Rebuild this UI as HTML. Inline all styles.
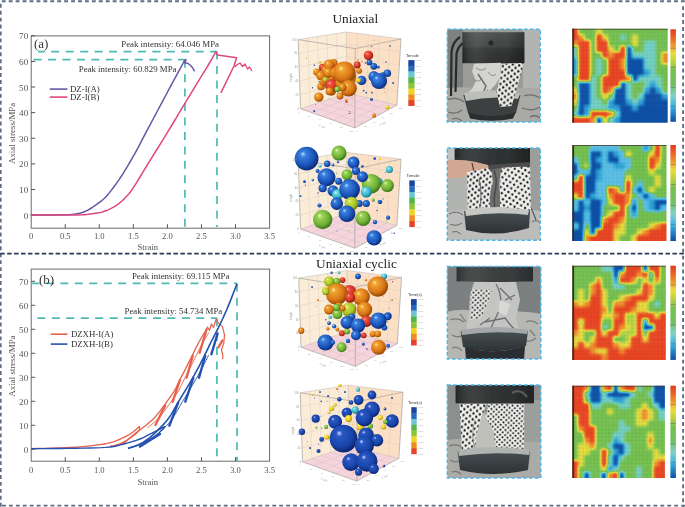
<!DOCTYPE html>
<html><head><meta charset="utf-8"><style>
html,body{margin:0;padding:0;background:#fff;width:685px;height:507px;overflow:hidden;font-family:"Liberation Serif",serif}
svg{display:block;filter:blur(0.35px)}
</style></head><body>
<svg width="685" height="507" viewBox="0 0 685 507">
<g font-family='"Liberation Serif", serif'>
<rect x="31.2" y="35.9" width="238.4" height="192.3" fill="none" stroke="#6b6b6b" stroke-width="1"/>
<line x1="31.2" y1="215.10" x2="35.2" y2="215.10" stroke="#555" stroke-width="1"/>
<text x="28.2" y="218.70" text-anchor="end" font-size="9.1" fill="#555">0</text>
<line x1="31.2" y1="189.48" x2="35.2" y2="189.48" stroke="#555" stroke-width="1"/>
<text x="28.2" y="193.08" text-anchor="end" font-size="9.1" fill="#555">10</text>
<line x1="31.2" y1="163.86" x2="35.2" y2="163.86" stroke="#555" stroke-width="1"/>
<text x="28.2" y="167.46" text-anchor="end" font-size="9.1" fill="#555">20</text>
<line x1="31.2" y1="138.24" x2="35.2" y2="138.24" stroke="#555" stroke-width="1"/>
<text x="28.2" y="141.84" text-anchor="end" font-size="9.1" fill="#555">30</text>
<line x1="31.2" y1="112.62" x2="35.2" y2="112.62" stroke="#555" stroke-width="1"/>
<text x="28.2" y="116.22" text-anchor="end" font-size="9.1" fill="#555">40</text>
<line x1="31.2" y1="87.00" x2="35.2" y2="87.00" stroke="#555" stroke-width="1"/>
<text x="28.2" y="90.60" text-anchor="end" font-size="9.1" fill="#555">50</text>
<line x1="31.2" y1="61.38" x2="35.2" y2="61.38" stroke="#555" stroke-width="1"/>
<text x="28.2" y="64.98" text-anchor="end" font-size="9.1" fill="#555">60</text>
<line x1="31.2" y1="35.76" x2="35.2" y2="35.76" stroke="#555" stroke-width="1"/>
<text x="28.2" y="39.36" text-anchor="end" font-size="9.1" fill="#555">70</text>
<text x="31.20" y="238.5" text-anchor="middle" font-size="8.6" fill="#555">0</text>
<line x1="65.25" y1="228.2" x2="65.25" y2="224.2" stroke="#555" stroke-width="1"/>
<text x="65.25" y="238.5" text-anchor="middle" font-size="8.6" fill="#555">0.5</text>
<line x1="99.31" y1="228.2" x2="99.31" y2="224.2" stroke="#555" stroke-width="1"/>
<text x="99.31" y="238.5" text-anchor="middle" font-size="8.6" fill="#555">1.0</text>
<line x1="133.36" y1="228.2" x2="133.36" y2="224.2" stroke="#555" stroke-width="1"/>
<text x="133.36" y="238.5" text-anchor="middle" font-size="8.6" fill="#555">1.5</text>
<line x1="167.42" y1="228.2" x2="167.42" y2="224.2" stroke="#555" stroke-width="1"/>
<text x="167.42" y="238.5" text-anchor="middle" font-size="8.6" fill="#555">2.0</text>
<line x1="201.47" y1="228.2" x2="201.47" y2="224.2" stroke="#555" stroke-width="1"/>
<text x="201.47" y="238.5" text-anchor="middle" font-size="8.6" fill="#555">2.5</text>
<line x1="235.53" y1="228.2" x2="235.53" y2="224.2" stroke="#555" stroke-width="1"/>
<text x="235.53" y="238.5" text-anchor="middle" font-size="8.6" fill="#555">3.0</text>
<text x="269.58" y="238.5" text-anchor="middle" font-size="8.6" fill="#555">3.5</text>
<text x="147.8" y="250.4" text-anchor="middle" font-size="8.6" fill="#555">Strain</text>
<text transform="translate(14.5,133.4) rotate(-90)" text-anchor="middle" font-size="8.95" fill="#555">Axial stress/MPa</text>
<g stroke="#4dbab4" stroke-width="1.7" fill="none">
<path d="M38,51.6 H217" stroke-dasharray="8 6.45" stroke-dashoffset="1.20"/>
<path d="M31.5,59.7 H185" stroke-dasharray="8 6.45" stroke-dashoffset="12.35"/>
<path d="M217,51.6 V227" stroke-dasharray="8 6.45"/>
<path d="M184.9,59.7 V227" stroke-dasharray="8 6.45"/>
</g>
<path d="M30.70,215.10 L33.88,215.09 L38.46,215.07 L43.43,215.05 L47.77,215.02 L51.14,215.00 L54.12,214.97 L56.99,214.92 L60.05,214.84 L63.44,214.76 L66.98,214.68 L70.49,214.52 L73.77,214.21 L76.77,213.75 L79.59,213.17 L82.28,212.45 L84.90,211.52 L87.41,210.36 L89.80,209.00 L92.15,207.50 L94.52,205.89 L96.98,204.22 L99.45,202.44 L101.89,200.54 L104.22,198.48 L106.38,196.26 L108.43,193.89 L110.44,191.39 L112.48,188.76 L114.55,186.00 L116.64,183.11 L118.72,180.10 L120.80,177.00 L122.89,173.79 L124.98,170.46 L127.04,167.08 L129.06,163.70 L131.07,160.25 L133.07,156.72 L134.98,153.29 L136.71,150.15 L138.10,147.57 L139.26,145.37 L140.45,143.07 L141.96,140.18 L143.93,136.44 L146.17,132.16 L148.53,127.67 L150.84,123.30 L152.99,119.26 L155.09,115.33 L157.28,111.23 L159.71,106.68 L162.59,101.28 L165.80,95.27 L168.92,89.41 L171.59,84.44 L173.61,80.71 L175.21,77.77 L176.65,75.17 L178.14,72.42 L179.88,69.19 L181.69,65.79 L183.30,62.76 L184.42,60.66 L186,59.6 L185,63 L187.8,63.3 Q192,65.5 194.6,71.4" stroke="#6a55a8" stroke-width="1.5" fill="none" stroke-linejoin="round"/>
<path d="M30.70,215.10 L36.36,215.09 L44.57,215.08 L53.18,215.06 L60.05,215.05 L64.47,215.04 L67.63,215.03 L70.24,215.01 L73.02,214.97 L76.02,214.94 L78.91,214.92 L81.82,214.83 L84.90,214.64 L88.38,214.28 L92.13,213.81 L95.71,213.29 L98.69,212.80 L100.82,212.37 L102.38,211.95 L103.70,211.51 L105.10,211.01 L106.64,210.44 L108.16,209.83 L109.65,209.16 L111.11,208.45 L112.54,207.70 L113.94,206.90 L115.33,206.05 L116.71,205.13 L118.10,204.12 L119.49,203.05 L120.85,201.93 L122.17,200.78 L123.41,199.63 L124.60,198.45 L125.76,197.22 L126.95,195.92 L128.08,194.69 L129.16,193.49 L130.34,192.04 L131.79,190.04 L133.53,187.42 L135.47,184.34 L137.62,180.84 L139.98,177.00 L142.62,172.70 L145.50,167.94 L148.51,162.98 L151.52,158.08 L154.56,153.20 L157.67,148.25 L160.74,143.35 L163.67,138.65 L166.39,134.21 L168.97,129.95 L171.49,125.76 L174.05,121.51 L176.54,117.35 L178.96,113.27 L181.52,108.96 L184.42,104.13 L187.93,98.31 L191.88,91.80 L195.78,85.39 L199.17,79.83 L201.85,75.48 L204.11,71.88 L206.15,68.60 L208.18,65.26 L210.38,61.48 L212.60,57.57 L214.53,54.12 L215.89,51.71 L217.5,55 L236.6,57.8 L234,66 L220.9,92.9" stroke="#e2467e" stroke-width="1.5" fill="none" stroke-linejoin="round"/>
<path d="M234.5,67 L237.5,64.5 L240,63 L242.5,66.5 L245,64 L247.5,69 L249.5,67 L252,71" stroke="#e2467e" stroke-width="1.3" fill="none" stroke-linejoin="round"/>
<text x="34" y="47.8" font-size="13" fill="#333">(a)</text>
<text x="219" y="46.5" text-anchor="end" font-size="8.85" fill="#333">Peak intensity: 64.046 MPa</text>
<text x="176.5" y="71.6" text-anchor="end" font-size="8.85" fill="#333">Peak intensity: 60.829 MPa</text>
<line x1="49.7" y1="89.1" x2="67.4" y2="89.1" stroke="#6a55a8" stroke-width="1.6"/>
<line x1="49.7" y1="97.1" x2="67.4" y2="97.1" stroke="#e2467e" stroke-width="1.6"/>
<text x="70" y="92.3" font-size="8.8" fill="#333">DZ-I(A)</text>
<text x="70" y="100.3" font-size="8.8" fill="#333">DZ-I(B)</text>
</g>
<g font-family='"Liberation Serif", serif'>
<rect x="31.2" y="269.1" width="238.4" height="192.1" fill="none" stroke="#6b6b6b" stroke-width="1"/>
<line x1="31.2" y1="449.30" x2="35.2" y2="449.30" stroke="#555" stroke-width="1"/>
<text x="28.2" y="452.90" text-anchor="end" font-size="9.1" fill="#555">0</text>
<line x1="31.2" y1="425.30" x2="35.2" y2="425.30" stroke="#555" stroke-width="1"/>
<text x="28.2" y="428.90" text-anchor="end" font-size="9.1" fill="#555">10</text>
<line x1="31.2" y1="401.30" x2="35.2" y2="401.30" stroke="#555" stroke-width="1"/>
<text x="28.2" y="404.90" text-anchor="end" font-size="9.1" fill="#555">20</text>
<line x1="31.2" y1="377.30" x2="35.2" y2="377.30" stroke="#555" stroke-width="1"/>
<text x="28.2" y="380.90" text-anchor="end" font-size="9.1" fill="#555">30</text>
<line x1="31.2" y1="353.30" x2="35.2" y2="353.30" stroke="#555" stroke-width="1"/>
<text x="28.2" y="356.90" text-anchor="end" font-size="9.1" fill="#555">40</text>
<line x1="31.2" y1="329.30" x2="35.2" y2="329.30" stroke="#555" stroke-width="1"/>
<text x="28.2" y="332.90" text-anchor="end" font-size="9.1" fill="#555">50</text>
<line x1="31.2" y1="305.30" x2="35.2" y2="305.30" stroke="#555" stroke-width="1"/>
<text x="28.2" y="308.90" text-anchor="end" font-size="9.1" fill="#555">60</text>
<line x1="31.2" y1="281.30" x2="35.2" y2="281.30" stroke="#555" stroke-width="1"/>
<text x="28.2" y="284.90" text-anchor="end" font-size="9.1" fill="#555">70</text>
<text x="31.20" y="472.5" text-anchor="middle" font-size="8.6" fill="#555">0</text>
<line x1="65.25" y1="461.2" x2="65.25" y2="457.2" stroke="#555" stroke-width="1"/>
<text x="65.25" y="472.5" text-anchor="middle" font-size="8.6" fill="#555">0.5</text>
<line x1="99.31" y1="461.2" x2="99.31" y2="457.2" stroke="#555" stroke-width="1"/>
<text x="99.31" y="472.5" text-anchor="middle" font-size="8.6" fill="#555">1.0</text>
<line x1="133.36" y1="461.2" x2="133.36" y2="457.2" stroke="#555" stroke-width="1"/>
<text x="133.36" y="472.5" text-anchor="middle" font-size="8.6" fill="#555">1.5</text>
<line x1="167.42" y1="461.2" x2="167.42" y2="457.2" stroke="#555" stroke-width="1"/>
<text x="167.42" y="472.5" text-anchor="middle" font-size="8.6" fill="#555">2.0</text>
<line x1="201.47" y1="461.2" x2="201.47" y2="457.2" stroke="#555" stroke-width="1"/>
<text x="201.47" y="472.5" text-anchor="middle" font-size="8.6" fill="#555">2.5</text>
<line x1="235.53" y1="461.2" x2="235.53" y2="457.2" stroke="#555" stroke-width="1"/>
<text x="235.53" y="472.5" text-anchor="middle" font-size="8.6" fill="#555">3.0</text>
<text x="269.58" y="472.5" text-anchor="middle" font-size="8.6" fill="#555">3.5</text>
<text x="147.8" y="484.7" text-anchor="middle" font-size="8.6" fill="#555">Strain</text>
<text transform="translate(14.5,366.0) rotate(-90)" text-anchor="middle" font-size="8.95" fill="#555">Axial stress/MPa</text>
<g stroke="#4dbab4" stroke-width="1.7" fill="none">
<path d="M31.5,283.4 H237" stroke-dasharray="8 6.45"/>
<path d="M37.4,318.2 H217" stroke-dasharray="8 6.45"/>
<path d="M237,283.4 V461" stroke-dasharray="8 6.45"/>
<path d="M216.9,318.2 V461" stroke-dasharray="8 6.45"/>
</g>
<path d="M31.40,448.60 L36.74,448.51 L44.45,448.38 L52.78,448.21 L60.00,448.00 L65.60,447.77 L70.54,447.50 L75.20,447.18 L80.00,446.80 L85.15,446.33 L90.41,445.80 L95.46,445.22 L100.00,444.60 L103.86,443.99 L107.22,443.38 L110.33,442.67 L113.40,441.80 L116.51,440.70 L119.54,439.43 L122.40,438.09 L125.00,436.80 L127.28,435.61 L129.31,434.44 L131.18,433.26 L133.00,432.00 L134.92,430.50 L136.85,428.85 L138.53,427.35 L139.70,426.30" stroke="#e8604c" stroke-width="1.3" fill="none" stroke-linejoin="round"/>
<path d="M139.70,426.30 L139.65,426.95 L139.60,427.87 L139.42,428.93 L139.00,430.00 L138.33,431.05 L137.46,432.14 L136.36,433.29 L135.00,434.50 L133.30,435.83 L131.31,437.25 L129.16,438.67 L127.00,440.00 L124.80,441.25 L122.50,442.47 L120.20,443.57 L118.00,444.50 L115.74,445.22 L113.44,445.78 L111.41,446.20 L110.00,446.50" stroke="#e8604c" stroke-width="1.3" fill="none" stroke-linejoin="round"/>
<path d="M110.00,446.50 L112.38,446.04 L115.82,445.41 L119.55,444.55 L122.80,443.40 L125.29,441.89 L127.46,440.07 L129.60,438.06 L132.00,436.00 L134.78,433.88 L137.78,431.64 L140.84,429.34 L143.80,427.00 L146.66,424.69 L149.49,422.36 L152.25,419.93 L154.90,417.30 L157.40,414.43 L159.79,411.36 L162.13,408.17 L164.50,404.90 L167.02,401.46 L169.61,397.86 L172.07,394.31 L174.20,391.00 L175.85,388.07 L177.16,385.38 L178.37,382.75 L179.70,380.00 L181.21,377.11 L182.77,374.18 L184.37,371.15 L186.00,368.00 L187.68,364.64 L189.41,361.11 L191.13,357.58 L192.80,354.20 L194.39,351.00 L195.94,347.89 L197.46,344.89 L199.00,342.00 L200.70,339.01 L202.49,335.99 L204.09,333.35 L205.20,331.50" stroke="#e8604c" stroke-width="1.3" fill="none" stroke-linejoin="round"/>
<path d="M205.2,331.5 L207.5,327.0 L209.5,330.5 L211.4,323.8 L213.5,327.5 L216.3,319.0 L218.3,323.1 L222.5,326.6 L224.5,334.9 L223.8,343.1 L221.5,350.0 L223.0,356.0 L222.5,359.0" stroke="#e8604c" stroke-width="1.2" fill="none" stroke-linejoin="round"/>
<path d="M155.5,424.9 L165.2,405.5" stroke="#e8604c" stroke-width="2.3" stroke-linecap="round"/>
<path d="M172.6,401.9 L180.0,380.0" stroke="#e8604c" stroke-width="2.3" stroke-linecap="round"/>
<path d="M186.6,377.7 L192.8,355.6" stroke="#e8604c" stroke-width="2.3" stroke-linecap="round"/>
<path d="M199.7,352.8 L206.6,329.3" stroke="#e8604c" stroke-width="2.3" stroke-linecap="round"/>
<path d="M218.3,347.3 L222.5,340.4" stroke="#e8604c" stroke-width="2.3" stroke-linecap="round"/>
<path d="M147.40,428.00 L149.43,426.32 L152.35,423.93 L155.57,421.14 L158.50,418.30 L161.00,415.43 L163.39,412.36 L165.73,409.17 L168.10,405.90 L170.62,402.46 L173.21,398.86 L175.67,395.31 L177.80,392.00 L179.45,389.07 L180.76,386.38 L181.97,383.75 L183.30,381.00 L184.81,378.11 L186.37,375.18 L187.97,372.15 L189.60,369.00 L191.28,365.64 L193.01,362.11 L194.73,358.58 L196.40,355.20 L197.99,352.00 L199.54,348.89 L201.06,345.89 L202.60,343.00 L204.30,340.01 L206.09,336.99 L207.69,334.35 L208.80,332.50" stroke="#e8604c" stroke-width="1.0" fill="none" opacity="0.9"/>
<path d="M31.40,448.60 L36.51,448.59 L43.82,448.58 L52.08,448.56 L60.00,448.50 L67.64,448.41 L75.54,448.31 L83.17,448.17 L90.00,448.00 L95.84,447.83 L101.00,447.66 L105.66,447.40 L110.00,447.00 L113.88,446.44 L117.25,445.75 L120.50,444.94 L124.00,444.00 L127.95,442.91 L132.12,441.69 L136.23,440.37 L140.00,439.00 L143.38,437.52 L146.50,435.94 L149.38,434.38 L152.00,433.00 L154.35,431.83 L156.42,430.79 L158.29,429.86 L160.00,429.00 L161.62,428.17 L163.10,427.40 L164.33,426.75 L165.20,426.30" stroke="#2451b0" stroke-width="1.4" fill="none"/>
<path d="M165.20,426.30 L164.71,426.91 L164.04,427.78 L163.14,428.83 L162.00,430.00 L160.54,431.36 L158.80,432.92 L156.91,434.52 L155.00,436.00 L153.12,437.33 L151.19,438.59 L149.16,439.81 L147.00,441.00 L144.62,442.20 L142.06,443.38 L139.48,444.50 L137.00,445.50 L134.47,446.41 L131.88,447.23 L129.59,447.92 L128.00,448.40" stroke="#2451b0" stroke-width="1.4" fill="none"/>
<path d="M128.00,448.40 L129.80,447.85 L132.38,447.07 L135.27,446.11 L138.00,445.00 L140.50,443.75 L143.01,442.34 L145.51,440.76 L148.00,439.00 L150.45,437.04 L152.86,434.89 L155.30,432.58 L157.80,430.10 L160.39,427.56 L163.05,424.91 L165.73,421.98 L168.40,418.60 L171.05,414.59 L173.69,410.09 L176.34,405.39 L179.00,400.80 L181.71,396.33 L184.46,391.84 L187.15,387.40 L189.70,383.10 L192.11,378.91 L194.41,374.80 L196.58,370.84 L198.60,367.10 L200.43,363.64 L202.09,360.41 L203.66,357.30 L205.20,354.20 L206.69,351.11 L208.10,348.09 L209.51,345.07 L211.00,342.00 L212.54,339.01 L214.10,336.09 L215.76,332.95 L217.60,329.30 L219.65,325.10 L221.86,320.49 L224.20,315.46 L226.60,310.00 L229.35,303.34 L232.36,295.74 L235.10,288.75 L237.00,283.90" stroke="#2451b0" stroke-width="1.6" fill="none"/>
<path d="M161.20,431.10 L163.10,429.18 L165.84,426.46 L168.90,423.19 L171.80,419.60 L174.45,415.59 L177.09,411.09 L179.74,406.39 L182.40,401.80 L185.11,397.33 L187.86,392.84 L190.55,388.40 L193.10,384.10 L195.51,379.91 L197.81,375.80 L199.98,371.84 L202.00,368.10 L203.97,364.35 L205.86,360.65 L207.47,357.45 L208.60,355.20" stroke="#2451b0" stroke-width="1.0" fill="none" opacity="0.9"/>
<path d="M169.3,425.7 L178.2,402.6" stroke="#2451b0" stroke-width="2.4" stroke-linecap="round"/>
<path d="M185.3,401.7 L193.3,377.8" stroke="#2451b0" stroke-width="2.4" stroke-linecap="round"/>
<path d="M199.0,377.7 L205.2,355.6" stroke="#2451b0" stroke-width="2.4" stroke-linecap="round"/>
<path d="M211.4,354.2 L217.6,333.5" stroke="#2451b0" stroke-width="2.4" stroke-linecap="round"/>
<path d="M140.0,446.5 L160.0,434.0" stroke="#2451b0" stroke-width="2.4" stroke-linecap="round"/>
<text x="39" y="284" font-size="13" fill="#333">(b)</text>
<text x="229.4" y="279" text-anchor="end" font-size="8.85" fill="#333">Peak intensity: 69.115 MPa</text>
<text x="222.3" y="313.8" text-anchor="end" font-size="8.85" fill="#333">Peak intensity: 54.734 MPa</text>
<line x1="50.8" y1="334.2" x2="67.4" y2="334.2" stroke="#e8604c" stroke-width="1.6"/>
<line x1="50.8" y1="344.1" x2="67.4" y2="344.1" stroke="#2451b0" stroke-width="1.6"/>
<text x="70.9" y="337.4" font-size="8.8" fill="#333">DZXH-I(A)</text>
<text x="70.9" y="347.3" font-size="8.8" fill="#333">DZXH-I(B)</text>
</g>
<text x="355.3" y="23" text-anchor="middle" font-family='"Liberation Serif", serif' font-size="13.3" fill="#222">Uniaxial</text>
<text x="356.5" y="267.5" text-anchor="middle" font-family='"Liberation Serif", serif' font-size="13.3" fill="#222">Uniaxial cyclic</text>
<defs><radialGradient id="sgo" cx="0.42" cy="0.4" r="0.62" fx="0.34" fy="0.3"><stop offset="0" stop-color="#fff0a0"/><stop offset="0.18" stop-color="#f0a432"/><stop offset="0.68" stop-color="#d87414"/><stop offset="1" stop-color="#8a4204"/></radialGradient>
<radialGradient id="sgr" cx="0.42" cy="0.4" r="0.62" fx="0.34" fy="0.3"><stop offset="0" stop-color="#ffc0b0"/><stop offset="0.18" stop-color="#f05a48"/><stop offset="0.68" stop-color="#d23020"/><stop offset="1" stop-color="#82120a"/></radialGradient>
<radialGradient id="sgb" cx="0.42" cy="0.4" r="0.62" fx="0.34" fy="0.3"><stop offset="0" stop-color="#c0dcff"/><stop offset="0.18" stop-color="#3a82e0"/><stop offset="0.68" stop-color="#1a52b8"/><stop offset="1" stop-color="#0a2870"/></radialGradient>
<radialGradient id="sgn" cx="0.42" cy="0.4" r="0.62" fx="0.34" fy="0.3"><stop offset="0" stop-color="#d0d8ff"/><stop offset="0.18" stop-color="#2a58c4"/><stop offset="0.68" stop-color="#1844aa"/><stop offset="1" stop-color="#0a2268"/></radialGradient>
<radialGradient id="sgg" cx="0.42" cy="0.4" r="0.62" fx="0.34" fy="0.3"><stop offset="0" stop-color="#f0ffc8"/><stop offset="0.18" stop-color="#a0d45c"/><stop offset="0.68" stop-color="#6cb034"/><stop offset="1" stop-color="#387016"/></radialGradient>
<radialGradient id="sgy" cx="0.42" cy="0.4" r="0.62" fx="0.34" fy="0.3"><stop offset="0" stop-color="#fffff0"/><stop offset="0.18" stop-color="#f8e850"/><stop offset="0.68" stop-color="#e6ca1a"/><stop offset="1" stop-color="#988206"/></radialGradient>
<radialGradient id="sgk" cx="0.42" cy="0.4" r="0.62" fx="0.34" fy="0.3"><stop offset="0" stop-color="#f4ffc8"/><stop offset="0.18" stop-color="#cce048"/><stop offset="0.68" stop-color="#a6c222"/><stop offset="1" stop-color="#62720e"/></radialGradient>
<radialGradient id="sgc" cx="0.42" cy="0.4" r="0.62" fx="0.34" fy="0.3"><stop offset="0" stop-color="#e8ffff"/><stop offset="0.18" stop-color="#78dce4"/><stop offset="0.68" stop-color="#32b2ca"/><stop offset="1" stop-color="#0f7084"/></radialGradient>
<pattern id="hdots" width="3.75" height="3.75" patternUnits="userSpaceOnUse"><circle cx="1.9" cy="1.9" r="0.55" fill="#223" opacity="0.35"/></pattern>
<linearGradient id="hcbar" x1="0" y1="0" x2="0" y2="1">
<stop offset="0" stop-color="#e03a22"/><stop offset="0.1" stop-color="#ec6a26"/><stop offset="0.2" stop-color="#f0a830"/>
<stop offset="0.26" stop-color="#eadc3c"/><stop offset="0.36" stop-color="#b8d040"/><stop offset="0.45" stop-color="#74c050"/>
<stop offset="0.6" stop-color="#70c060"/><stop offset="0.72" stop-color="#80d0c8"/><stop offset="0.84" stop-color="#38b0e0"/>
<stop offset="1" stop-color="#0d4ca8"/></linearGradient>

<filter id="pblur" x="-2%" y="-2%" width="104%" height="104%"><feGaussianBlur stdDeviation="0.5"/></filter>
<pattern id="pdots" width="6.4" height="6.0" patternUnits="userSpaceOnUse" patternTransform="rotate(8)">
<ellipse cx="1.6" cy="1.5" rx="1.1" ry="1.3" fill="#111"/><ellipse cx="4.8" cy="4.5" rx="1.1" ry="1.3" fill="#111"/></pattern>
<pattern id="pdots2" width="6.8" height="6.2" patternUnits="userSpaceOnUse" patternTransform="rotate(-10)">
<ellipse cx="1.6" cy="1.5" rx="1.05" ry="1.25" fill="#111"/><ellipse cx="5.0" cy="4.6" rx="1.05" ry="1.25" fill="#111"/></pattern>
<pattern id="pdots3" width="5.2" height="5.0" patternUnits="userSpaceOnUse" patternTransform="rotate(4)">
<circle cx="1.3" cy="1.2" r="1.0" fill="#111"/><circle cx="3.9" cy="3.7" r="1.0" fill="#111"/></pattern>
<linearGradient id="press" x1="0" y1="0" x2="0" y2="1"><stop offset="0" stop-color="#505353"/><stop offset="0.45" stop-color="#434646"/><stop offset="0.55" stop-color="#353737"/><stop offset="1" stop-color="#2c2e2e"/></linearGradient>
<linearGradient id="pressh" x1="0" y1="0" x2="1" y2="0"><stop offset="0" stop-color="#000" stop-opacity="0.25"/><stop offset="0.3" stop-color="#fff" stop-opacity="0.06"/><stop offset="0.7" stop-color="#000" stop-opacity="0"/><stop offset="1" stop-color="#000" stop-opacity="0.3"/></linearGradient>
<linearGradient id="baseg" x1="0" y1="0" x2="0" y2="1"><stop offset="0" stop-color="#4a5256"/><stop offset="1" stop-color="#2c3234"/></linearGradient>
</defs>
<g font-family='"Liberation Sans", sans-serif'>
<polygon points="298.20,39.60 346.40,32.00 347.00,93.00 300.50,108.70" fill="#fbecd8"/>
<polygon points="346.40,32.00 401.00,38.90 396.90,105.10 347.00,93.00" fill="#fce0c6"/>
<polygon points="300.50,108.70 347.00,93.00 396.90,105.10 354.80,127.90" fill="#f5d4db"/>
<path d="M307.84,38.08 L309.80,105.56 M298.66,53.42 L346.52,44.20 M357.32,33.38 L356.98,95.42 M346.52,44.20 L400.18,52.14 M317.48,36.56 L319.10,102.42 M299.12,67.24 L346.64,56.40 M368.24,34.76 L366.96,97.84 M346.64,56.40 L399.36,65.38 M327.12,35.04 L328.40,99.28 M299.58,81.06 L346.76,68.60 M379.16,36.14 L376.94,100.26 M346.76,68.60 L398.54,78.62 M336.76,33.52 L337.70,96.14 M300.04,94.88 L346.88,80.80 M390.08,37.52 L386.92,102.68 M346.88,80.80 L397.72,91.86" stroke="#dccfc3" stroke-width="0.5" fill="none"/>
<path d="M309.80,105.56 L363.22,123.34 M356.98,95.42 L311.36,112.54 M319.10,102.42 L371.64,118.78 M366.96,97.84 L322.22,116.38 M328.40,99.28 L380.06,114.22 M376.94,100.26 L333.08,120.22 M337.70,96.14 L388.48,109.66 M386.92,102.68 L343.94,124.06" stroke="#dcc0c8" stroke-width="0.5" fill="none"/>
<path d="M298.20,39.60 L346.40,32.00 L401.00,38.90 M346.40,32.00 L347.00,93.00 M300.50,108.70 L347.00,93.00 L396.90,105.10" stroke="#c8bdb2" stroke-width="0.6" fill="none"/>
<circle cx="315.7" cy="104.3" r="0.5" fill="#d04020"/>
<circle cx="349.2" cy="74.1" r="0.5" fill="#2050b0"/>
<circle cx="322.7" cy="77.0" r="0.5" fill="#e08020"/>
<circle cx="373.9" cy="40.2" r="0.5" fill="#e08020"/>
<circle cx="377.6" cy="84.9" r="0.8" fill="#d04020"/>
<circle cx="306.0" cy="41.9" r="0.4" fill="#2050b0"/>
<circle cx="385.0" cy="92.1" r="0.7" fill="#e08020"/>
<circle cx="352.2" cy="98.0" r="0.6" fill="#e08020"/>
<circle cx="335.3" cy="91.4" r="0.8" fill="#e08020"/>
<circle cx="389.2" cy="71.6" r="0.8" fill="#2050b0"/>
<circle cx="312.5" cy="87.8" r="0.7" fill="#2050b0"/>
<circle cx="314.4" cy="65.3" r="0.8" fill="#2050b0"/>
<circle cx="349.7" cy="113.4" r="0.7" fill="#2050b0"/>
<circle cx="365.4" cy="63.0" r="0.8" fill="#2050b0"/>
<circle cx="349.5" cy="111.4" r="0.6" fill="#e08020"/>
<circle cx="306.4" cy="58.4" r="0.5" fill="#e08020"/>
<circle cx="319.3" cy="81.7" r="0.7" fill="#2050b0"/>
<circle cx="371.7" cy="46.6" r="0.6" fill="#2050b0"/>
<path d="M298.20,39.60 L355.20,48.60 L401.00,38.90 M355.20,48.60 L354.80,127.90 M298.20,39.60 L300.50,108.70 M300.50,108.70 L354.80,127.90 L396.90,105.10" stroke="#a6a29e" stroke-width="0.7" fill="none"/>
<path d="M401.00,38.90 L396.90,105.10" stroke="#a6a29e" stroke-width="0.7" fill="none"/>
<circle cx="389.9" cy="45.8" r="0.9" fill="url(#sgb)"/>
<circle cx="371.3" cy="99.6" r="1.1" fill="url(#sgb)"/>
<circle cx="393.1" cy="83.0" r="1.0" fill="url(#sgb)"/>
<circle cx="363.6" cy="90.6" r="0.9" fill="url(#sgb)"/>
<circle cx="366.2" cy="92.6" r="0.9" fill="url(#sgb)"/>
<circle cx="371.9" cy="92.6" r="0.9" fill="url(#sgb)"/>
<circle cx="314.2" cy="110.9" r="1.0" fill="url(#sgb)"/>
<circle cx="346.4" cy="101.6" r="1.2" fill="url(#sgr)"/>
<circle cx="358.0" cy="60.0" r="0.8" fill="url(#sgo)"/>
<circle cx="362.0" cy="61.5" r="0.8" fill="url(#sgo)"/>
<circle cx="386.0" cy="62.0" r="0.7" fill="url(#sgb)"/>
<circle cx="384.0" cy="88.0" r="0.7" fill="url(#sgo)"/>
<circle cx="374.1" cy="115.7" r="2.1" fill="url(#sgo)"/>
<circle cx="387.2" cy="107.2" r="2.1" fill="url(#sgy)"/>
<circle cx="371.5" cy="99.4" r="1.4" fill="url(#sgb)"/>
<circle cx="369.4" cy="62.4" r="2.9" fill="url(#sgb)"/>
<circle cx="373.8" cy="66.3" r="3.4" fill="url(#sgb)"/>
<circle cx="378.3" cy="66.9" r="1.5" fill="url(#sgb)"/>
<circle cx="387.3" cy="73.3" r="3.8" fill="url(#sgb)"/>
<circle cx="382.8" cy="74.0" r="1.9" fill="url(#sgb)"/>
<circle cx="373.8" cy="76.5" r="5.4" fill="url(#sgb)"/>
<circle cx="379.0" cy="81.0" r="8.1" fill="url(#sgb)"/>
<circle cx="361.7" cy="80.4" r="4.7" fill="url(#sgb)"/>
<circle cx="358.5" cy="80.4" r="2.3" fill="url(#sgy)"/>
<circle cx="368.5" cy="55.4" r="4.7" fill="url(#sgr)"/>
<circle cx="357.2" cy="65.0" r="3.4" fill="url(#sgr)"/>
<circle cx="359.1" cy="70.8" r="2.9" fill="url(#sgo)"/>
<circle cx="320.0" cy="62.3" r="1.3" fill="url(#sgy)"/>
<circle cx="316.8" cy="72.0" r="3.6" fill="url(#sgo)"/>
<circle cx="321.0" cy="86.5" r="3.8" fill="url(#sgo)"/>
<circle cx="322.6" cy="67.4" r="3.6" fill="url(#sgr)"/>
<circle cx="326.0" cy="70.0" r="4.7" fill="url(#sgo)"/>
<circle cx="333.5" cy="63.0" r="4.0" fill="url(#sgo)"/>
<circle cx="329.0" cy="64.9" r="5.4" fill="url(#sgo)"/>
<circle cx="337.3" cy="67.4" r="3.4" fill="url(#sgr)"/>
<circle cx="320.6" cy="75.8" r="4.5" fill="url(#sgo)"/>
<circle cx="323.8" cy="82.2" r="3.8" fill="url(#sgo)"/>
<circle cx="326.5" cy="80.5" r="4.7" fill="url(#sgo)"/>
<circle cx="334.0" cy="80.0" r="5.2" fill="url(#sgo)"/>
<circle cx="328.3" cy="72.6" r="5.1" fill="url(#sgo)"/>
<circle cx="325.1" cy="79.6" r="2.3" fill="url(#sgk)"/>
<circle cx="353.3" cy="75.8" r="2.9" fill="url(#sgo)"/>
<circle cx="351.0" cy="79.0" r="4.7" fill="url(#sgo)"/>
<circle cx="337.3" cy="77.0" r="5.4" fill="url(#sgo)"/>
<circle cx="331.5" cy="91.0" r="4.7" fill="url(#sgo)"/>
<circle cx="331.5" cy="85.5" r="6.6" fill="url(#sgr)"/>
<circle cx="329.6" cy="91.2" r="4.0" fill="url(#sgo)"/>
<circle cx="340.0" cy="96.0" r="3.4" fill="url(#sgo)"/>
<circle cx="336.2" cy="73.2" r="6.3" fill="url(#sgo)"/>
<circle cx="340.5" cy="83.0" r="5.2" fill="url(#sgo)"/>
<circle cx="344.4" cy="72.6" r="11.1" fill="url(#sgo)"/>
<circle cx="348.5" cy="88.3" r="8.3" fill="url(#sgo)"/>
<circle cx="342.4" cy="87.3" r="4.0" fill="url(#sgo)"/>
<circle cx="337.3" cy="89.2" r="3.0" fill="url(#sgg)"/>
<circle cx="318.8" cy="97.1" r="4.7" fill="url(#sgo)"/>
<circle cx="346.3" cy="100.1" r="1.0" fill="url(#sgo)"/>
<text x="296.7" y="40.6" font-size="2.6" fill="#999" text-anchor="end">100</text>
<text x="297.2" y="54.4" font-size="2.6" fill="#999" text-anchor="end">80</text>
<text x="297.6" y="68.2" font-size="2.6" fill="#999" text-anchor="end">60</text>
<text x="298.1" y="82.1" font-size="2.6" fill="#999" text-anchor="end">40</text>
<text x="298.5" y="95.9" font-size="2.6" fill="#999" text-anchor="end">20</text>
<text x="299.0" y="109.7" font-size="2.6" fill="#999" text-anchor="end">0</text>
<text transform="translate(291.5,77.6) rotate(-90)" font-size="2.6" fill="#999" text-anchor="middle">Length</text>
<text x="299.5" y="112.7" font-size="2.5" fill="#aaa" text-anchor="end">0</text>
<text x="356.3" y="131.9" font-size="2.5" fill="#aaa">0</text>
<text x="310.4" y="116.5" font-size="2.5" fill="#aaa" text-anchor="end">20</text>
<text x="364.7" y="127.3" font-size="2.5" fill="#aaa">20</text>
<text x="321.2" y="120.4" font-size="2.5" fill="#aaa" text-anchor="end">40</text>
<text x="373.1" y="122.8" font-size="2.5" fill="#aaa">40</text>
<text x="332.1" y="124.2" font-size="2.5" fill="#aaa" text-anchor="end">60</text>
<text x="381.6" y="118.2" font-size="2.5" fill="#aaa">60</text>
<text x="342.9" y="128.1" font-size="2.5" fill="#aaa" text-anchor="end">80</text>
<text x="390.0" y="113.7" font-size="2.5" fill="#aaa">80</text>
<text x="353.8" y="131.9" font-size="2.5" fill="#aaa" text-anchor="end">100</text>
<text x="398.4" y="109.1" font-size="2.5" fill="#aaa">100</text>
<text transform="translate(321.9,127.3) rotate(20)" font-size="2.6" fill="#999" text-anchor="middle">X axis</text>
<text transform="translate(383.0,124.4) rotate(-25)" font-size="2.6" fill="#999" text-anchor="middle">Y axis</text>
<rect x="408.30" y="60.10" width="6.20" height="5.91" fill="#1b45a0"/>
<rect x="408.30" y="65.81" width="6.20" height="5.91" fill="#2a68bc"/>
<rect x="408.30" y="71.53" width="6.20" height="5.91" fill="#6cc4d4"/>
<rect x="408.30" y="77.24" width="6.20" height="5.91" fill="#56b44a"/>
<rect x="408.30" y="82.95" width="6.20" height="5.91" fill="#8cc43c"/>
<rect x="408.30" y="88.66" width="6.20" height="5.91" fill="#f2d322"/>
<rect x="408.30" y="94.38" width="6.20" height="5.91" fill="#f08a22"/>
<rect x="408.30" y="100.09" width="6.20" height="5.91" fill="#e5432a"/>
<text x="412.4" y="56.6" font-size="4.2" fill="#333" text-anchor="middle">Tensile</text>
<text x="415.7" y="61.1" font-size="2.2" fill="#aaa">0.000</text>
<text x="415.7" y="66.8" font-size="2.2" fill="#aaa">0.000</text>
<text x="415.7" y="72.5" font-size="2.2" fill="#aaa">0.000</text>
<text x="415.7" y="78.2" font-size="2.2" fill="#aaa">0.000</text>
<text x="415.7" y="84.0" font-size="2.2" fill="#aaa">0.000</text>
<text x="415.7" y="89.7" font-size="2.2" fill="#aaa">0.000</text>
<text x="415.7" y="95.4" font-size="2.2" fill="#aaa">0.000</text>
<text x="415.7" y="101.1" font-size="2.2" fill="#aaa">0.000</text>
<text x="415.7" y="106.8" font-size="2.2" fill="#aaa">0.000</text>
<polygon points="298.20,159.90 346.40,152.30 347.00,213.30 300.50,229.00" fill="#fbecd8"/>
<polygon points="346.40,152.30 401.00,159.20 396.90,225.40 347.00,213.30" fill="#fce0c6"/>
<polygon points="300.50,229.00 347.00,213.30 396.90,225.40 354.80,248.20" fill="#f5d4db"/>
<path d="M307.84,158.38 L309.80,225.86 M298.66,173.72 L346.52,164.50 M357.32,153.68 L356.98,215.72 M346.52,164.50 L400.18,172.44 M317.48,156.86 L319.10,222.72 M299.12,187.54 L346.64,176.70 M368.24,155.06 L366.96,218.14 M346.64,176.70 L399.36,185.68 M327.12,155.34 L328.40,219.58 M299.58,201.36 L346.76,188.90 M379.16,156.44 L376.94,220.56 M346.76,188.90 L398.54,198.92 M336.76,153.82 L337.70,216.44 M300.04,215.18 L346.88,201.10 M390.08,157.82 L386.92,222.98 M346.88,201.10 L397.72,212.16" stroke="#dccfc3" stroke-width="0.5" fill="none"/>
<path d="M309.80,225.86 L363.22,243.64 M356.98,215.72 L311.36,232.84 M319.10,222.72 L371.64,239.08 M366.96,218.14 L322.22,236.68 M328.40,219.58 L380.06,234.52 M376.94,220.56 L333.08,240.52 M337.70,216.44 L388.48,229.96 M386.92,222.98 L343.94,244.36" stroke="#dcc0c8" stroke-width="0.5" fill="none"/>
<path d="M298.20,159.90 L346.40,152.30 L401.00,159.20 M346.40,152.30 L347.00,213.30 M300.50,229.00 L347.00,213.30 L396.90,225.40" stroke="#c8bdb2" stroke-width="0.6" fill="none"/>
<circle cx="391.9" cy="232.2" r="0.4" fill="#2050b0"/>
<circle cx="336.7" cy="173.1" r="0.7" fill="#70c040"/>
<circle cx="326.5" cy="176.4" r="0.6" fill="#2050b0"/>
<circle cx="317.9" cy="193.0" r="0.7" fill="#2060c0"/>
<circle cx="383.0" cy="198.9" r="0.6" fill="#2060c0"/>
<circle cx="344.5" cy="180.7" r="0.7" fill="#2050b0"/>
<circle cx="337.0" cy="231.0" r="0.5" fill="#2060c0"/>
<circle cx="385.2" cy="172.8" r="0.5" fill="#2050b0"/>
<circle cx="305.4" cy="185.0" r="0.6" fill="#2050b0"/>
<circle cx="336.6" cy="199.3" r="0.4" fill="#70c040"/>
<circle cx="386.1" cy="220.8" r="0.6" fill="#70c040"/>
<circle cx="387.5" cy="187.9" r="0.5" fill="#70c040"/>
<circle cx="394.2" cy="233.3" r="0.8" fill="#2050b0"/>
<circle cx="340.3" cy="216.4" r="0.6" fill="#70c040"/>
<circle cx="348.7" cy="230.5" r="0.6" fill="#70c040"/>
<circle cx="377.1" cy="210.5" r="0.8" fill="#2060c0"/>
<circle cx="346.0" cy="203.4" r="0.7" fill="#70c040"/>
<circle cx="348.4" cy="177.1" r="0.7" fill="#2060c0"/>
<path d="M298.20,159.90 L355.20,168.90 L401.00,159.20 M355.20,168.90 L354.80,248.20 M298.20,159.90 L300.50,229.00 M300.50,229.00 L354.80,248.20 L396.90,225.40" stroke="#a6a29e" stroke-width="0.7" fill="none"/>
<path d="M401.00,159.20 L396.90,225.40" stroke="#a6a29e" stroke-width="0.7" fill="none"/>
<circle cx="304.5" cy="181.4" r="1.5" fill="url(#sgb)"/>
<circle cx="312.8" cy="180.0" r="1.2" fill="url(#sgb)"/>
<circle cx="317.6" cy="171.1" r="2.0" fill="url(#sgb)"/>
<circle cx="374.7" cy="158.6" r="1.3" fill="url(#sgn)"/>
<circle cx="380.2" cy="159.3" r="1.0" fill="url(#sgy)"/>
<circle cx="362.3" cy="166.2" r="1.3" fill="url(#sgb)"/>
<circle cx="380.2" cy="202.0" r="2.1" fill="url(#sgb)"/>
<circle cx="388.1" cy="217.7" r="2.1" fill="url(#sgb)"/>
<circle cx="375.0" cy="222.2" r="2.1" fill="url(#sgb)"/>
<circle cx="319.5" cy="205.5" r="2.1" fill="url(#sgb)"/>
<circle cx="327.2" cy="163.8" r="3.2" fill="url(#sgb)"/>
<circle cx="373.3" cy="200.0" r="1.7" fill="url(#sgg)"/>
<circle cx="379.7" cy="201.7" r="2.0" fill="url(#sgb)"/>
<circle cx="389.4" cy="169.6" r="3.5" fill="url(#sgc)"/>
<circle cx="320.0" cy="166.0" r="1.6" fill="url(#sgc)"/>
<circle cx="314.0" cy="160.0" r="1.3" fill="url(#sgb)"/>
<circle cx="333.0" cy="165.0" r="1.4" fill="url(#sgb)"/>
<circle cx="338.0" cy="162.0" r="1.2" fill="url(#sgb)"/>
<circle cx="300.5" cy="196.0" r="1.0" fill="url(#sgb)"/>
<circle cx="339.0" cy="153.1" r="7.5" fill="url(#sgg)"/>
<circle cx="353.5" cy="162.6" r="6.0" fill="url(#sgb)"/>
<circle cx="387.4" cy="185.6" r="6.5" fill="url(#sgg)"/>
<circle cx="378.5" cy="181.8" r="4.1" fill="url(#sgc)"/>
<circle cx="371.4" cy="183.7" r="9.7" fill="url(#sgg)"/>
<circle cx="356.0" cy="170.9" r="4.1" fill="url(#sgb)"/>
<circle cx="362.4" cy="176.7" r="5.5" fill="url(#sgb)"/>
<circle cx="347.0" cy="174.7" r="5.5" fill="url(#sgg)"/>
<circle cx="338.7" cy="181.2" r="3.5" fill="url(#sgb)"/>
<circle cx="326.5" cy="177.3" r="9.0" fill="url(#sgb)"/>
<circle cx="322.7" cy="188.2" r="4.1" fill="url(#sgb)"/>
<circle cx="333.0" cy="190.8" r="5.5" fill="url(#sgb)"/>
<circle cx="337.4" cy="194.6" r="5.5" fill="url(#sgc)"/>
<circle cx="366.3" cy="192.0" r="5.5" fill="url(#sgc)"/>
<circle cx="349.6" cy="189.5" r="10.4" fill="url(#sgb)"/>
<circle cx="359.2" cy="203.6" r="3.5" fill="url(#sgb)"/>
<circle cx="366.3" cy="203.6" r="3.5" fill="url(#sgb)"/>
<circle cx="336.8" cy="203.6" r="6.3" fill="url(#sgb)"/>
<circle cx="351.5" cy="203.6" r="6.9" fill="url(#sgk)"/>
<circle cx="347.0" cy="213.8" r="8.3" fill="url(#sgb)"/>
<circle cx="363.1" cy="218.3" r="7.6" fill="url(#sgg)"/>
<circle cx="322.7" cy="219.5" r="9.7" fill="url(#sgg)"/>
<circle cx="374.1" cy="237.9" r="7.6" fill="url(#sgb)"/>
<circle cx="306.6" cy="158.6" r="11.9" fill="url(#sgb)"/>
<text x="296.7" y="160.9" font-size="2.6" fill="#999" text-anchor="end">100</text>
<text x="297.2" y="174.7" font-size="2.6" fill="#999" text-anchor="end">80</text>
<text x="297.6" y="188.5" font-size="2.6" fill="#999" text-anchor="end">60</text>
<text x="298.1" y="202.4" font-size="2.6" fill="#999" text-anchor="end">40</text>
<text x="298.5" y="216.2" font-size="2.6" fill="#999" text-anchor="end">20</text>
<text x="299.0" y="230.0" font-size="2.6" fill="#999" text-anchor="end">0</text>
<text transform="translate(291.5,197.9) rotate(-90)" font-size="2.6" fill="#999" text-anchor="middle">Length</text>
<text x="299.5" y="233.0" font-size="2.5" fill="#aaa" text-anchor="end">0</text>
<text x="356.3" y="252.2" font-size="2.5" fill="#aaa">0</text>
<text x="310.4" y="236.8" font-size="2.5" fill="#aaa" text-anchor="end">20</text>
<text x="364.7" y="247.6" font-size="2.5" fill="#aaa">20</text>
<text x="321.2" y="240.7" font-size="2.5" fill="#aaa" text-anchor="end">40</text>
<text x="373.1" y="243.1" font-size="2.5" fill="#aaa">40</text>
<text x="332.1" y="244.5" font-size="2.5" fill="#aaa" text-anchor="end">60</text>
<text x="381.6" y="238.5" font-size="2.5" fill="#aaa">60</text>
<text x="342.9" y="248.4" font-size="2.5" fill="#aaa" text-anchor="end">80</text>
<text x="390.0" y="234.0" font-size="2.5" fill="#aaa">80</text>
<text x="353.8" y="252.2" font-size="2.5" fill="#aaa" text-anchor="end">100</text>
<text x="398.4" y="229.4" font-size="2.5" fill="#aaa">100</text>
<text transform="translate(321.9,247.6) rotate(20)" font-size="2.6" fill="#999" text-anchor="middle">X axis</text>
<text transform="translate(383.0,244.7) rotate(-25)" font-size="2.6" fill="#999" text-anchor="middle">Y axis</text>
<rect x="409.30" y="180.40" width="5.50" height="6.01" fill="#1b45a0"/>
<rect x="409.30" y="186.21" width="5.50" height="6.01" fill="#2a68bc"/>
<rect x="409.30" y="192.03" width="5.50" height="6.01" fill="#6cc4d4"/>
<rect x="409.30" y="197.84" width="5.50" height="6.01" fill="#56b44a"/>
<rect x="409.30" y="203.65" width="5.50" height="6.01" fill="#8cc43c"/>
<rect x="409.30" y="209.46" width="5.50" height="6.01" fill="#f2d322"/>
<rect x="409.30" y="215.28" width="5.50" height="6.01" fill="#f08a22"/>
<rect x="409.30" y="221.09" width="5.50" height="6.01" fill="#e5432a"/>
<text x="413.1" y="176.9" font-size="4.2" fill="#333" text-anchor="middle">Tensile</text>
<text x="416.0" y="181.4" font-size="2.2" fill="#aaa">0.000</text>
<text x="416.0" y="187.2" font-size="2.2" fill="#aaa">0.000</text>
<text x="416.0" y="193.0" font-size="2.2" fill="#aaa">0.000</text>
<text x="416.0" y="198.8" font-size="2.2" fill="#aaa">0.000</text>
<text x="416.0" y="204.7" font-size="2.2" fill="#aaa">0.000</text>
<text x="416.0" y="210.5" font-size="2.2" fill="#aaa">0.000</text>
<text x="416.0" y="216.3" font-size="2.2" fill="#aaa">0.000</text>
<text x="416.0" y="222.1" font-size="2.2" fill="#aaa">0.000</text>
<text x="416.0" y="227.9" font-size="2.2" fill="#aaa">0.000</text>
<polygon points="298.70,278.10 346.90,270.50 347.50,331.50 301.00,347.20" fill="#fbecd8"/>
<polygon points="346.90,270.50 401.50,277.40 397.40,343.60 347.50,331.50" fill="#fce0c6"/>
<polygon points="301.00,347.20 347.50,331.50 397.40,343.60 355.30,366.40" fill="#f5d4db"/>
<path d="M308.34,276.58 L310.30,344.06 M299.16,291.92 L347.02,282.70 M357.82,271.88 L357.48,333.92 M347.02,282.70 L400.68,290.64 M317.98,275.06 L319.60,340.92 M299.62,305.74 L347.14,294.90 M368.74,273.26 L367.46,336.34 M347.14,294.90 L399.86,303.88 M327.62,273.54 L328.90,337.78 M300.08,319.56 L347.26,307.10 M379.66,274.64 L377.44,338.76 M347.26,307.10 L399.04,317.12 M337.26,272.02 L338.20,334.64 M300.54,333.38 L347.38,319.30 M390.58,276.02 L387.42,341.18 M347.38,319.30 L398.22,330.36" stroke="#dccfc3" stroke-width="0.5" fill="none"/>
<path d="M310.30,344.06 L363.72,361.84 M357.48,333.92 L311.86,351.04 M319.60,340.92 L372.14,357.28 M367.46,336.34 L322.72,354.88 M328.90,337.78 L380.56,352.72 M377.44,338.76 L333.58,358.72 M338.20,334.64 L388.98,348.16 M387.42,341.18 L344.44,362.56" stroke="#dcc0c8" stroke-width="0.5" fill="none"/>
<path d="M298.70,278.10 L346.90,270.50 L401.50,277.40 M346.90,270.50 L347.50,331.50 M301.00,347.20 L347.50,331.50 L397.40,343.60" stroke="#c8bdb2" stroke-width="0.6" fill="none"/>
<circle cx="325.8" cy="319.8" r="0.8" fill="#2050b0"/>
<circle cx="347.7" cy="322.6" r="0.8" fill="#d04020"/>
<circle cx="347.2" cy="320.3" r="0.8" fill="#e08020"/>
<circle cx="347.3" cy="342.0" r="0.5" fill="#e0c020"/>
<circle cx="383.6" cy="296.1" r="0.7" fill="#e08020"/>
<circle cx="352.3" cy="334.8" r="0.4" fill="#d04020"/>
<circle cx="392.6" cy="281.7" r="0.7" fill="#d04020"/>
<circle cx="328.7" cy="323.6" r="0.7" fill="#e0c020"/>
<circle cx="389.2" cy="308.5" r="0.8" fill="#e0c020"/>
<circle cx="316.1" cy="306.2" r="0.4" fill="#d04020"/>
<circle cx="323.8" cy="351.8" r="0.7" fill="#e0c020"/>
<circle cx="383.1" cy="310.5" r="0.6" fill="#e0c020"/>
<circle cx="353.3" cy="309.4" r="0.8" fill="#e08020"/>
<circle cx="367.0" cy="349.0" r="0.8" fill="#2050b0"/>
<circle cx="366.0" cy="290.9" r="0.8" fill="#2050b0"/>
<circle cx="387.7" cy="321.7" r="0.6" fill="#e08020"/>
<circle cx="395.4" cy="298.8" r="0.4" fill="#d04020"/>
<circle cx="382.9" cy="353.6" r="0.5" fill="#d04020"/>
<path d="M298.70,278.10 L355.70,287.10 L401.50,277.40 M355.70,287.10 L355.30,366.40 M298.70,278.10 L301.00,347.20 M301.00,347.20 L355.30,366.40 L397.40,343.60" stroke="#a6a29e" stroke-width="0.7" fill="none"/>
<path d="M401.50,277.40 L397.40,343.60" stroke="#a6a29e" stroke-width="0.7" fill="none"/>
<circle cx="331.6" cy="272.8" r="1.2" fill="url(#sgb)"/>
<circle cx="339.2" cy="272.8" r="1.4" fill="url(#sgc)"/>
<circle cx="358.0" cy="276.3" r="2.9" fill="url(#sgb)"/>
<circle cx="384.2" cy="276.3" r="2.9" fill="url(#sgc)"/>
<circle cx="342.6" cy="280.1" r="2.9" fill="url(#sgr)"/>
<circle cx="336.8" cy="281.4" r="3.6" fill="url(#sgg)"/>
<circle cx="301.2" cy="330.7" r="3.1" fill="url(#sgo)"/>
<circle cx="327.8" cy="328.8" r="1.7" fill="url(#sgo)"/>
<circle cx="330.4" cy="317.3" r="1.7" fill="url(#sgc)"/>
<circle cx="334.2" cy="326.3" r="2.1" fill="url(#sgb)"/>
<circle cx="337.4" cy="329.5" r="2.0" fill="url(#sgo)"/>
<circle cx="341.9" cy="333.3" r="3.0" fill="url(#sgr)"/>
<circle cx="347.0" cy="331.4" r="2.9" fill="url(#sgg)"/>
<circle cx="348.0" cy="340.9" r="2.2" fill="url(#sgb)"/>
<circle cx="363.3" cy="344.1" r="1.6" fill="url(#sgb)"/>
<circle cx="388.1" cy="345.7" r="1.9" fill="url(#sgb)"/>
<circle cx="329.1" cy="323.1" r="1.9" fill="url(#sgb)"/>
<circle cx="372.7" cy="334.0" r="3.1" fill="url(#sgo)"/>
<circle cx="377.8" cy="334.0" r="3.2" fill="url(#sgo)"/>
<circle cx="387.8" cy="316.1" r="3.9" fill="url(#sgb)"/>
<circle cx="318.0" cy="300.0" r="1.0" fill="url(#sgo)"/>
<circle cx="312.0" cy="287.0" r="0.9" fill="url(#sgb)"/>
<circle cx="366.0" cy="280.0" r="1.2" fill="url(#sgo)"/>
<circle cx="371.0" cy="285.0" r="1.0" fill="url(#sgy)"/>
<circle cx="392.0" cy="300.0" r="0.9" fill="url(#sgo)"/>
<circle cx="363.7" cy="335.3" r="2.9" fill="url(#sgr)"/>
<circle cx="329.1" cy="281.4" r="5.0" fill="url(#sgk)"/>
<circle cx="325.9" cy="290.4" r="3.8" fill="url(#sgy)"/>
<circle cx="377.8" cy="286.5" r="10.3" fill="url(#sgo)"/>
<circle cx="349.6" cy="291.7" r="6.6" fill="url(#sgr)"/>
<circle cx="361.2" cy="296.8" r="8.6" fill="url(#sgo)"/>
<circle cx="336.8" cy="294.0" r="10.8" fill="url(#sgo)"/>
<circle cx="338.7" cy="305.8" r="3.4" fill="url(#sgo)"/>
<circle cx="329.1" cy="309.6" r="5.0" fill="url(#sgo)"/>
<circle cx="337.4" cy="314.1" r="5.0" fill="url(#sgg)"/>
<circle cx="349.0" cy="309.6" r="7.2" fill="url(#sgk)"/>
<circle cx="364.4" cy="309.6" r="7.8" fill="url(#sgo)"/>
<circle cx="350.0" cy="297.6" r="5.2" fill="url(#sgr)"/>
<circle cx="351.8" cy="316.8" r="3.4" fill="url(#sgb)"/>
<circle cx="342.6" cy="308.4" r="2.9" fill="url(#sgo)"/>
<circle cx="336.7" cy="307.4" r="3.4" fill="url(#sgg)"/>
<circle cx="325.8" cy="291.7" r="3.4" fill="url(#sgk)"/>
<circle cx="366.3" cy="321.2" r="5.7" fill="url(#sgr)"/>
<circle cx="387.3" cy="316.8" r="3.4" fill="url(#sgb)"/>
<circle cx="384.4" cy="327.6" r="2.9" fill="url(#sgb)"/>
<circle cx="378.4" cy="320.7" r="8.3" fill="url(#sgb)"/>
<circle cx="347.0" cy="322.4" r="6.5" fill="url(#sgb)"/>
<circle cx="358.0" cy="325.6" r="7.2" fill="url(#sgb)"/>
<circle cx="356.0" cy="335.3" r="5.0" fill="url(#sgb)"/>
<circle cx="325.5" cy="342.5" r="8.1" fill="url(#sgb)"/>
<circle cx="332.7" cy="342.5" r="2.4" fill="url(#sgb)"/>
<circle cx="341.6" cy="347.3" r="5.0" fill="url(#sgg)"/>
<circle cx="378.5" cy="347.3" r="7.5" fill="url(#sgo)"/>
<text x="297.2" y="279.1" font-size="2.6" fill="#999" text-anchor="end">100</text>
<text x="297.7" y="292.9" font-size="2.6" fill="#999" text-anchor="end">80</text>
<text x="298.1" y="306.7" font-size="2.6" fill="#999" text-anchor="end">60</text>
<text x="298.6" y="320.6" font-size="2.6" fill="#999" text-anchor="end">40</text>
<text x="299.0" y="334.4" font-size="2.6" fill="#999" text-anchor="end">20</text>
<text x="299.5" y="348.2" font-size="2.6" fill="#999" text-anchor="end">0</text>
<text transform="translate(292.0,316.1) rotate(-90)" font-size="2.6" fill="#999" text-anchor="middle">Length</text>
<text x="300.0" y="351.2" font-size="2.5" fill="#aaa" text-anchor="end">0</text>
<text x="356.8" y="370.4" font-size="2.5" fill="#aaa">0</text>
<text x="310.9" y="355.0" font-size="2.5" fill="#aaa" text-anchor="end">20</text>
<text x="365.2" y="365.8" font-size="2.5" fill="#aaa">20</text>
<text x="321.7" y="358.9" font-size="2.5" fill="#aaa" text-anchor="end">40</text>
<text x="373.6" y="361.3" font-size="2.5" fill="#aaa">40</text>
<text x="332.6" y="362.7" font-size="2.5" fill="#aaa" text-anchor="end">60</text>
<text x="382.1" y="356.7" font-size="2.5" fill="#aaa">60</text>
<text x="343.4" y="366.6" font-size="2.5" fill="#aaa" text-anchor="end">80</text>
<text x="390.5" y="352.2" font-size="2.5" fill="#aaa">80</text>
<text x="354.3" y="370.4" font-size="2.5" fill="#aaa" text-anchor="end">100</text>
<text x="398.9" y="347.6" font-size="2.5" fill="#aaa">100</text>
<text transform="translate(322.4,365.8) rotate(20)" font-size="2.6" fill="#999" text-anchor="middle">X axis</text>
<text transform="translate(383.5,362.9) rotate(-25)" font-size="2.6" fill="#999" text-anchor="middle">Y axis</text>
<rect x="411.00" y="299.10" width="5.70" height="5.97" fill="#1b45a0"/>
<rect x="411.00" y="304.88" width="5.70" height="5.97" fill="#2a68bc"/>
<rect x="411.00" y="310.65" width="5.70" height="5.97" fill="#6cc4d4"/>
<rect x="411.00" y="316.43" width="5.70" height="5.97" fill="#56b44a"/>
<rect x="411.00" y="322.20" width="5.70" height="5.97" fill="#8cc43c"/>
<rect x="411.00" y="327.98" width="5.70" height="5.97" fill="#f2d322"/>
<rect x="411.00" y="333.75" width="5.70" height="5.97" fill="#f08a22"/>
<rect x="411.00" y="339.53" width="5.70" height="5.97" fill="#e5432a"/>
<text x="414.9" y="295.6" font-size="4.2" fill="#333" text-anchor="middle">Time(s)</text>
<text x="417.9" y="300.1" font-size="2.2" fill="#aaa">0.000</text>
<text x="417.9" y="305.9" font-size="2.2" fill="#aaa">0.000</text>
<text x="417.9" y="311.7" font-size="2.2" fill="#aaa">0.000</text>
<text x="417.9" y="317.4" font-size="2.2" fill="#aaa">0.000</text>
<text x="417.9" y="323.2" font-size="2.2" fill="#aaa">0.000</text>
<text x="417.9" y="329.0" font-size="2.2" fill="#aaa">0.000</text>
<text x="417.9" y="334.8" font-size="2.2" fill="#aaa">0.000</text>
<text x="417.9" y="340.5" font-size="2.2" fill="#aaa">0.000</text>
<text x="417.9" y="346.3" font-size="2.2" fill="#aaa">0.000</text>
<polygon points="300.20,392.80 348.40,385.20 349.00,446.20 302.50,461.90" fill="#fbecd8"/>
<polygon points="348.40,385.20 403.00,392.10 398.90,458.30 349.00,446.20" fill="#fce0c6"/>
<polygon points="302.50,461.90 349.00,446.20 398.90,458.30 356.80,481.10" fill="#f5d4db"/>
<path d="M309.84,391.28 L311.80,458.76 M300.66,406.62 L348.52,397.40 M359.32,386.58 L358.98,448.62 M348.52,397.40 L402.18,405.34 M319.48,389.76 L321.10,455.62 M301.12,420.44 L348.64,409.60 M370.24,387.96 L368.96,451.04 M348.64,409.60 L401.36,418.58 M329.12,388.24 L330.40,452.48 M301.58,434.26 L348.76,421.80 M381.16,389.34 L378.94,453.46 M348.76,421.80 L400.54,431.82 M338.76,386.72 L339.70,449.34 M302.04,448.08 L348.88,434.00 M392.08,390.72 L388.92,455.88 M348.88,434.00 L399.72,445.06" stroke="#dccfc3" stroke-width="0.5" fill="none"/>
<path d="M311.80,458.76 L365.22,476.54 M358.98,448.62 L313.36,465.74 M321.10,455.62 L373.64,471.98 M368.96,451.04 L324.22,469.58 M330.40,452.48 L382.06,467.42 M378.94,453.46 L335.08,473.42 M339.70,449.34 L390.48,462.86 M388.92,455.88 L345.94,477.26" stroke="#dcc0c8" stroke-width="0.5" fill="none"/>
<path d="M300.20,392.80 L348.40,385.20 L403.00,392.10 M348.40,385.20 L349.00,446.20 M302.50,461.90 L349.00,446.20 L398.90,458.30" stroke="#c8bdb2" stroke-width="0.6" fill="none"/>
<circle cx="327.1" cy="401.0" r="0.6" fill="#70c040"/>
<circle cx="313.6" cy="394.7" r="0.7" fill="#e0c020"/>
<circle cx="376.2" cy="410.0" r="0.5" fill="#e0c020"/>
<circle cx="321.2" cy="401.3" r="0.8" fill="#1a3aa0"/>
<circle cx="307.6" cy="441.8" r="0.7" fill="#e0c020"/>
<circle cx="323.2" cy="416.7" r="0.4" fill="#e0c020"/>
<circle cx="361.4" cy="444.2" r="0.4" fill="#1a3aa0"/>
<circle cx="349.1" cy="400.0" r="0.4" fill="#e0c020"/>
<circle cx="332.3" cy="446.7" r="0.7" fill="#e0c020"/>
<circle cx="352.4" cy="424.6" r="0.5" fill="#e0c020"/>
<circle cx="320.2" cy="416.4" r="0.4" fill="#1a3aa0"/>
<circle cx="348.1" cy="468.9" r="0.7" fill="#70c040"/>
<circle cx="318.7" cy="444.3" r="0.5" fill="#1a3aa0"/>
<circle cx="324.0" cy="441.2" r="0.4" fill="#e0c020"/>
<circle cx="345.7" cy="437.9" r="0.8" fill="#1a3aa0"/>
<circle cx="314.6" cy="397.9" r="0.5" fill="#1a3aa0"/>
<circle cx="359.2" cy="458.6" r="0.5" fill="#1a3aa0"/>
<circle cx="321.7" cy="428.0" r="0.5" fill="#1a3aa0"/>
<path d="M300.20,392.80 L357.20,401.80 L403.00,392.10 M357.20,401.80 L356.80,481.10 M300.20,392.80 L302.50,461.90 M302.50,461.90 L356.80,481.10 L398.90,458.30" stroke="#a6a29e" stroke-width="0.7" fill="none"/>
<path d="M403.00,392.10 L398.90,458.30" stroke="#a6a29e" stroke-width="0.7" fill="none"/>
<circle cx="339.9" cy="385.5" r="1.7" fill="url(#sgy)"/>
<circle cx="337.1" cy="389.0" r="1.1" fill="url(#sgo)"/>
<circle cx="358.1" cy="389.7" r="2.1" fill="url(#sgc)"/>
<circle cx="339.3" cy="399.2" r="2.2" fill="url(#sgn)"/>
<circle cx="351.0" cy="402.5" r="2.3" fill="url(#sgn)"/>
<circle cx="385.0" cy="409.0" r="1.4" fill="url(#sgn)"/>
<circle cx="316.4" cy="427.6" r="1.1" fill="url(#sgg)"/>
<circle cx="326.1" cy="426.9" r="2.1" fill="url(#sgg)"/>
<circle cx="326.7" cy="437.0" r="2.5" fill="url(#sgy)"/>
<circle cx="318.5" cy="451.0" r="2.0" fill="url(#sgn)"/>
<circle cx="384.0" cy="466.1" r="1.3" fill="url(#sgn)"/>
<circle cx="321.7" cy="439.4" r="2.4" fill="url(#sgn)"/>
<circle cx="301.9" cy="431.8" r="3.2" fill="url(#sgn)"/>
<circle cx="315.7" cy="418.7" r="4.1" fill="url(#sgn)"/>
<circle cx="331.7" cy="408.4" r="2.5" fill="url(#sgy)"/>
<circle cx="335.0" cy="404.9" r="1.8" fill="url(#sgy)"/>
<circle cx="329.0" cy="412.0" r="1.6" fill="url(#sgy)"/>
<circle cx="312.0" cy="395.0" r="1.0" fill="url(#sgy)"/>
<circle cx="320.0" cy="392.0" r="0.9" fill="url(#sgb)"/>
<circle cx="328.0" cy="396.0" r="1.0" fill="url(#sgn)"/>
<circle cx="345.0" cy="392.0" r="1.0" fill="url(#sgn)"/>
<circle cx="392.0" cy="398.0" r="0.9" fill="url(#sgn)"/>
<circle cx="310.0" cy="448.0" r="1.0" fill="url(#sgn)"/>
<circle cx="372.0" cy="395.0" r="4.4" fill="url(#sgn)"/>
<circle cx="358.6" cy="400.0" r="4.9" fill="url(#sgn)"/>
<circle cx="346.8" cy="412.6" r="5.2" fill="url(#sgn)"/>
<circle cx="355.2" cy="410.1" r="3.6" fill="url(#sgc)"/>
<circle cx="372.0" cy="409.3" r="7.9" fill="url(#sgn)"/>
<circle cx="392.1" cy="421.0" r="6.7" fill="url(#sgn)"/>
<circle cx="348.5" cy="418.5" r="3.4" fill="url(#sgy)"/>
<circle cx="360.3" cy="426.9" r="3.4" fill="url(#sgy)"/>
<circle cx="370.3" cy="426.0" r="2.7" fill="url(#sgg)"/>
<circle cx="380.4" cy="417.6" r="2.5" fill="url(#sgy)"/>
<circle cx="383.7" cy="426.9" r="2.5" fill="url(#sgy)"/>
<circle cx="385.4" cy="421.8" r="2.4" fill="url(#sgg)"/>
<circle cx="364.4" cy="417.6" r="8.8" fill="url(#sgn)"/>
<circle cx="335.1" cy="421.8" r="7.0" fill="url(#sgn)"/>
<circle cx="366.1" cy="435.3" r="7.9" fill="url(#sgn)"/>
<circle cx="377.0" cy="440.3" r="6.2" fill="url(#sgn)"/>
<circle cx="343.5" cy="438.6" r="13.9" fill="url(#sgn)"/>
<circle cx="364.4" cy="445.3" r="9.7" fill="url(#sgn)"/>
<circle cx="351.0" cy="462.1" r="8.8" fill="url(#sgn)"/>
<circle cx="367.0" cy="461.2" r="10.5" fill="url(#sgn)"/>
<circle cx="373.7" cy="468.8" r="5.2" fill="url(#sgn)"/>
<circle cx="358.6" cy="472.1" r="3.6" fill="url(#sgn)"/>
<text x="298.7" y="393.8" font-size="2.6" fill="#999" text-anchor="end">100</text>
<text x="299.2" y="407.6" font-size="2.6" fill="#999" text-anchor="end">80</text>
<text x="299.6" y="421.4" font-size="2.6" fill="#999" text-anchor="end">60</text>
<text x="300.1" y="435.3" font-size="2.6" fill="#999" text-anchor="end">40</text>
<text x="300.5" y="449.1" font-size="2.6" fill="#999" text-anchor="end">20</text>
<text x="301.0" y="462.9" font-size="2.6" fill="#999" text-anchor="end">0</text>
<text transform="translate(293.5,430.8) rotate(-90)" font-size="2.6" fill="#999" text-anchor="middle">Length</text>
<text x="301.5" y="465.9" font-size="2.5" fill="#aaa" text-anchor="end">0</text>
<text x="358.3" y="485.1" font-size="2.5" fill="#aaa">0</text>
<text x="312.4" y="469.7" font-size="2.5" fill="#aaa" text-anchor="end">20</text>
<text x="366.7" y="480.5" font-size="2.5" fill="#aaa">20</text>
<text x="323.2" y="473.6" font-size="2.5" fill="#aaa" text-anchor="end">40</text>
<text x="375.1" y="476.0" font-size="2.5" fill="#aaa">40</text>
<text x="334.1" y="477.4" font-size="2.5" fill="#aaa" text-anchor="end">60</text>
<text x="383.6" y="471.4" font-size="2.5" fill="#aaa">60</text>
<text x="344.9" y="481.3" font-size="2.5" fill="#aaa" text-anchor="end">80</text>
<text x="392.0" y="466.9" font-size="2.5" fill="#aaa">80</text>
<text x="355.8" y="485.1" font-size="2.5" fill="#aaa" text-anchor="end">100</text>
<text x="400.4" y="462.3" font-size="2.5" fill="#aaa">100</text>
<text transform="translate(323.9,480.5) rotate(20)" font-size="2.6" fill="#999" text-anchor="middle">X axis</text>
<text transform="translate(385.0,477.6) rotate(-25)" font-size="2.6" fill="#999" text-anchor="middle">Y axis</text>
<rect x="411.30" y="407.20" width="5.40" height="6.05" fill="#1b45a0"/>
<rect x="411.30" y="413.05" width="5.40" height="6.05" fill="#2a68bc"/>
<rect x="411.30" y="418.90" width="5.40" height="6.05" fill="#6cc4d4"/>
<rect x="411.30" y="424.75" width="5.40" height="6.05" fill="#56b44a"/>
<rect x="411.30" y="430.60" width="5.40" height="6.05" fill="#8cc43c"/>
<rect x="411.30" y="436.45" width="5.40" height="6.05" fill="#f2d322"/>
<rect x="411.30" y="442.30" width="5.40" height="6.05" fill="#f08a22"/>
<rect x="411.30" y="448.15" width="5.40" height="6.05" fill="#e5432a"/>
<text x="415.0" y="403.7" font-size="4.2" fill="#333" text-anchor="middle">Time(s)</text>
<text x="417.9" y="408.2" font-size="2.2" fill="#aaa">0.000</text>
<text x="417.9" y="414.1" font-size="2.2" fill="#aaa">0.000</text>
<text x="417.9" y="419.9" font-size="2.2" fill="#aaa">0.000</text>
<text x="417.9" y="425.8" font-size="2.2" fill="#aaa">0.000</text>
<text x="417.9" y="431.6" font-size="2.2" fill="#aaa">0.000</text>
<text x="417.9" y="437.4" font-size="2.2" fill="#aaa">0.000</text>
<text x="417.9" y="443.3" font-size="2.2" fill="#aaa">0.000</text>
<text x="417.9" y="449.1" font-size="2.2" fill="#aaa">0.000</text>
<text x="417.9" y="455.0" font-size="2.2" fill="#aaa">0.000</text>
</g>
<clipPath id="pc1"><rect x="447.3" y="29.2" width="93.0" height="92.8"/></clipPath>
<g clip-path="url(#pc1)"><g filter="url(#pblur)">
<rect x="445.3" y="27.2" width="97.0" height="96.8" fill="#9a9c99"/>
<rect x="446" y="28" width="17" height="64" fill="#7e817f"/>
<rect x="523" y="28" width="19" height="62" fill="#b2b4b1"/>
<path d="M446,88 Q470,86 495,90 Q520,86 542,89 L542,124 L446,124 Z" fill="#a9a9a5"/>
<path d="M446,100 q10,-4 18,2 M448,112 q8,3 14,-2 M524,96 q8,-3 16,2 M522,108 q10,4 18,-1 M452,119 q6,-2 10,2 M530,117 q5,-3 10,1" stroke="#6e6e6c" stroke-width="1.3" fill="none"/>
<path d="M451,96 L451.5,52 Q452.5,42 460,37 M455.5,92 L456.5,54 Q457.5,47 463,43" stroke="#2a2c2c" stroke-width="2.2" fill="none"/>
<rect x="462.4" y="32.2" width="62" height="31" fill="url(#press)"/>
<rect x="462.4" y="32.2" width="62" height="31" fill="url(#pressh)"/>
<circle cx="491" cy="43" r="2.6" fill="#2a2c2c"/>
<path d="M474,63.7 L501,62.8 L500,77.3 L495.3,85 L489.5,90.8 L479.8,100.5 L470.1,104.3 L464.3,96.6 L472.1,88.9 L475.9,81.1 L472.1,71.5 Z" fill="#d3d3cf"/>
<path d="M476,68 q6,4 10,0 M474,80 q5,3 8,-2 M480,92 q6,2 8,-3 M488,72 q4,6 8,2 M468,98 q4,-3 8,0" stroke="#8e8e8a" stroke-width="1" fill="none"/>
<path d="M478,74 L486,86 L482,95" stroke="#6a6a68" stroke-width="1.4" fill="none"/>
<path d="M463.4,95 Q492,91 520.4,95 L516,113 Q492,120 468,113 Z" fill="#3e4141"/>
<path d="M464,93 Q492,88 520,94 L518,99 Q492,95 466,101 Z" fill="#bdbdb9"/>
<path d="M468,112 Q492,120 516,112 L513,118.5 Q492,123 470,118.5 Z" fill="#2b2d2d"/>
<path d="M501,64 L523.5,63 L521.4,72 L516,92 L511.5,106 L500,107 L496.5,92 L499.5,78 Z" fill="#e8e8e4"/>
<path d="M501,64 L523.5,63 L521.4,72 L516,92 L511.5,106 L500,107 L496.5,92 L499.5,78 Z" fill="url(#pdots)"/>
</g></g>
<rect x="447.3" y="29.2" width="93.0" height="92.8" fill="none" stroke="#4db6e8" stroke-width="1.5" stroke-dasharray="3.6 2.3"/>
<clipPath id="pc2"><rect x="447.3" y="148.0" width="93.0" height="92.3"/></clipPath>
<g clip-path="url(#pc2)"><g filter="url(#pblur)">
<rect x="445.3" y="146.0" width="97.0" height="96.3" fill="#c2c4c2"/>
<rect x="446" y="176" width="21" height="38" fill="#b2b4b2"/>
<rect x="529" y="147" width="13" height="72" fill="#9c9e9c"/>
<path d="M446,212 Q470,208 495,212 Q520,208 542,211 L542,242 L446,242 Z" fill="#bcbcba"/>
<path d="M449,214 q8,-4 14,1 M450,224 q6,3 12,-1 M452,232 q5,-2 9,2 M532,222 q4,-3 8,1" stroke="#6c6c6c" stroke-width="1" fill="none"/>
<path d="M526,200 q6,8 10,20" stroke="#555" stroke-width="1.2" fill="none"/>
<path d="M454.7,147 L530,147 L530,164 Q492,167 454.7,164 Z" fill="#2e3232"/>
<rect x="454.7" y="147" width="75.3" height="18" fill="url(#pressh)"/>
<path d="M446,160 Q462,159 476,162 L488,165 L489,171 L477,174 Q460,179 446,178 Z" fill="#d2a892"/>
<path d="M472,163 L474,172" stroke="#4a3024" stroke-width="1.1"/>
<path d="M467,172 L492,167 L492,214 L468,214 Z" fill="#ededeb"/>
<path d="M467,172 L492,167 L492,214 L468,214 Z" fill="url(#pdots)"/>
<path d="M501,168 L530,165 L531,212 L499,214 Z" fill="#ededeb"/>
<path d="M501,168 L530,165 L531,212 L499,214 Z" fill="url(#pdots2)"/>
<path d="M491,167 L502,168 Q498,180 500,195 L500,214 L491,214 Q488,195 493,182 Z" fill="#6e6e6c"/>
<path d="M494,170 Q498,180 495,192 Q493,202 496,212" stroke="#4c4c4c" stroke-width="1.6" fill="none"/>
<path d="M479,178 Q483,196 479,212" stroke="#707070" stroke-width="1.2" fill="none"/>
<path d="M488,165 L530,162 L530,167 Q505,166 489,170 Z" fill="#4c4c4c"/>
<path d="M464,211 Q497,207 530,211 L529,228 Q497,238 466,230 Z" fill="url(#baseg)"/>
<path d="M465,210 Q497,204 529,210 L528,215 Q497,211 466,216 Z" fill="#c6c6c2"/>
</g></g>
<rect x="447.3" y="148.0" width="93.0" height="92.3" fill="none" stroke="#4db6e8" stroke-width="1.5" stroke-dasharray="3.6 2.3"/>
<clipPath id="pc3"><rect x="447.3" y="266.4" width="93.5" height="92.7"/></clipPath>
<g clip-path="url(#pc3)"><g filter="url(#pblur)">
<rect x="445.3" y="264.4" width="97.5" height="96.7" fill="#7c8080"/>
<path d="M446,312 Q470,306 490,316 Q515,308 542,314 L542,361 L446,361 Z" fill="#b6b6b2"/>
<path d="M450,320 q8,-3 14,2 M452,335 q7,4 12,-1 M526,322 q6,-3 12,2 M524,340 q6,3 12,-2 M452,348 q6,-2 10,3 M460,314 l6,8 M530,330 l5,6" stroke="#7a7a7a" stroke-width="1.2" fill="none"/>
<path d="M456.6,266 L533,266 L533,281 Q495,283 456.6,281 Z" fill="#3a3e3e"/>
<rect x="456.6" y="266" width="76.4" height="16" fill="url(#pressh)"/>
<path d="M474,282 L516,282 L520,300 L516,318 L520,332 L466,333 L469,312 L470,295 Z" fill="#c4c5c3"/>
<path d="M471,290 L492,289 L489,300 L481,318 L470,320 Z" fill="#e4e4e2"/>
<path d="M471,290 L492,289 L489,300 L481,318 L470,320 Z" fill="url(#pdots3)" opacity="0.9"/>
<path d="M496,284 Q505,300 497,315 L490,330 M505,300 L515,295 M485,322 L505,318 Q510,325 515,330 M500,288 L512,300 M480,325 L490,318" stroke="#6e6e6e" stroke-width="1.3" fill="none"/>
<path d="M500,300 L510,304 L506,316 L498,312 Z" fill="#d8d8d6"/>
<path d="M460.5,331 Q494,326 528,331 L526,346 Q494,356 463,347 Z" fill="url(#baseg)"/>
<path d="M461,330 Q494,324 528,330 L527,334 Q494,330 462,335 Z" fill="#a4a8aa"/>
<path d="M465,347 Q494,356 525,346 L524,360 L466,360 Z" fill="#2a2e30"/>
</g></g>
<rect x="447.3" y="266.4" width="93.5" height="92.7" fill="none" stroke="#4db6e8" stroke-width="1.5" stroke-dasharray="3.6 2.3"/>
<clipPath id="pc4"><rect x="447.3" y="384.9" width="93.5" height="93.1"/></clipPath>
<g clip-path="url(#pc4)"><g filter="url(#pblur)">
<rect x="445.3" y="382.9" width="97.5" height="97.1" fill="#8c8f8d"/>
<path d="M446,440 Q470,436 495,442 Q520,436 542,440 L542,480 L446,480 Z" fill="#aaaaa6"/>
<rect x="524" y="400" width="18" height="42" fill="#9c9e9c"/>
<path d="M449,446 q8,-3 14,2 M450,460 q7,4 12,-1 M452,472 q5,-2 9,2" stroke="#777" stroke-width="1.1" fill="none"/>
<path d="M455.6,384 L533.9,384 L533.9,403.3 L455.6,403.3 Z" fill="#2f3232"/>
<rect x="455.6" y="384" width="78.3" height="19.3" fill="url(#pressh)"/>
<path d="M512,393 q8,-5 15,4" stroke="#5a5a5a" stroke-width="2.2" fill="none"/>
<path d="M474,425 L485,412 L494,430 L496,453 L472,453 Z" fill="#c0c0ba"/>
<path d="M459.5,404 L486.6,404 L481,418 L476,436 L475,453 L462,453 Z" fill="#efefed"/>
<path d="M459.5,404 L486.6,404 L481,418 L476,436 L475,453 L462,453 Z" fill="url(#pdots)"/>
<path d="M488,404 L524.3,404 L524,452 L495,453 L494,432 L486,418 Z" fill="#efefed"/>
<path d="M488,404 L524.3,404 L524,452 L495,453 L494,432 L486,418 Z" fill="url(#pdots3)"/>
<path d="M475,420 Q470,435 476,452" stroke="#888" stroke-width="1" fill="none"/>
<path d="M457.6,451 Q494,446 530,451 L528,470 Q494,478 460,470 Z" fill="url(#baseg)"/>
<path d="M458,450 Q494,444 530,450 L529,455 Q494,451 459,456 Z" fill="#b0b4b0"/>
</g></g>
<rect x="447.3" y="384.9" width="93.5" height="93.1" fill="none" stroke="#4db6e8" stroke-width="1.5" stroke-dasharray="3.6 2.3"/>
<filter id="hfa" x="-5%" y="-5%" width="110%" height="110%" color-interpolation-filters="sRGB"><feGaussianBlur stdDeviation="1.50"/><feComponentTransfer><feFuncR type="table" tableValues="0.051 0.065 0.080 0.094 0.108 0.123 0.137 0.152 0.166 0.180 0.210 0.240 0.269 0.299 0.329 0.358 0.388 0.417 0.447 0.448 0.449 0.450 0.451 0.451 0.452 0.453 0.454 0.455 0.490 0.525 0.559 0.594 0.629 0.664 0.699 0.732 0.765 0.797 0.830 0.863 0.895 0.905 0.910 0.914 0.919 0.923 0.927 0.932 0.936 0.940 0.939 0.936 0.933 0.930 0.927 0.924 0.921 0.919 0.916 0.913 0.910"/><feFuncG type="table" tableValues="0.314 0.350 0.387 0.424 0.460 0.497 0.533 0.570 0.607 0.643 0.662 0.681 0.701 0.720 0.739 0.758 0.777 0.797 0.816 0.809 0.802 0.795 0.788 0.781 0.774 0.767 0.760 0.753 0.764 0.775 0.786 0.797 0.807 0.818 0.829 0.836 0.841 0.846 0.851 0.856 0.862 0.835 0.800 0.765 0.730 0.695 0.661 0.626 0.591 0.556 0.528 0.503 0.477 0.451 0.425 0.399 0.374 0.348 0.322 0.296 0.271"/><feFuncB type="table" tableValues="0.651 0.673 0.695 0.716 0.738 0.760 0.782 0.803 0.825 0.847 0.838 0.830 0.821 0.812 0.803 0.795 0.786 0.777 0.769 0.718 0.668 0.617 0.566 0.516 0.465 0.415 0.364 0.314 0.307 0.301 0.294 0.288 0.281 0.275 0.268 0.262 0.257 0.252 0.247 0.242 0.236 0.230 0.223 0.216 0.209 0.202 0.195 0.188 0.181 0.174 0.170 0.167 0.163 0.160 0.157 0.154 0.150 0.147 0.144 0.141 0.137"/></feComponentTransfer></filter>
<clipPath id="hca"><rect x="572.30" y="28.70" width="95.40" height="94.00"/></clipPath>
<g clip-path="url(#hca)"><g filter="url(#hfa)">
<rect x="560.38" y="16.95" width="18.19" height="6.17" fill="#ffffff"/>
<rect x="578.26" y="16.95" width="18.19" height="6.17" fill="#737373"/>
<rect x="596.15" y="16.95" width="6.26" height="6.17" fill="#ababab"/>
<rect x="602.11" y="16.95" width="77.81" height="6.17" fill="#737373"/>
<rect x="560.38" y="22.82" width="18.19" height="6.17" fill="#ffffff"/>
<rect x="578.26" y="22.82" width="18.19" height="6.17" fill="#737373"/>
<rect x="596.15" y="22.82" width="6.26" height="6.17" fill="#ababab"/>
<rect x="602.11" y="22.82" width="77.81" height="6.17" fill="#737373"/>
<rect x="560.38" y="28.70" width="18.19" height="6.17" fill="#ffffff"/>
<rect x="578.26" y="28.70" width="18.19" height="6.17" fill="#737373"/>
<rect x="596.15" y="28.70" width="6.26" height="6.17" fill="#ababab"/>
<rect x="602.11" y="28.70" width="77.81" height="6.17" fill="#737373"/>
<rect x="560.38" y="34.58" width="18.19" height="6.17" fill="#ffffff"/>
<rect x="578.26" y="34.58" width="6.26" height="6.17" fill="#d1d1d1"/>
<rect x="584.22" y="34.58" width="12.23" height="6.17" fill="#737373"/>
<rect x="596.15" y="34.58" width="6.26" height="6.17" fill="#ffffff"/>
<rect x="602.11" y="34.58" width="6.26" height="6.17" fill="#ababab"/>
<rect x="608.08" y="34.58" width="12.23" height="6.17" fill="#737373"/>
<rect x="620.00" y="34.58" width="6.26" height="6.17" fill="#4c4c4c"/>
<rect x="625.96" y="34.58" width="6.26" height="6.17" fill="#737373"/>
<rect x="631.92" y="34.58" width="6.26" height="6.17" fill="#ababab"/>
<rect x="637.89" y="34.58" width="42.04" height="6.17" fill="#737373"/>
<rect x="560.38" y="40.45" width="18.19" height="6.17" fill="#d1d1d1"/>
<rect x="578.26" y="40.45" width="12.23" height="6.17" fill="#ffffff"/>
<rect x="590.19" y="40.45" width="6.26" height="6.17" fill="#737373"/>
<rect x="596.15" y="40.45" width="12.23" height="6.17" fill="#ffffff"/>
<rect x="608.08" y="40.45" width="24.15" height="6.17" fill="#737373"/>
<rect x="631.92" y="40.45" width="6.26" height="6.17" fill="#ababab"/>
<rect x="637.89" y="40.45" width="6.26" height="6.17" fill="#737373"/>
<rect x="643.85" y="40.45" width="12.23" height="6.17" fill="#4c4c4c"/>
<rect x="655.78" y="40.45" width="24.15" height="6.17" fill="#737373"/>
<rect x="560.38" y="46.33" width="18.19" height="6.17" fill="#4c4c4c"/>
<rect x="578.26" y="46.33" width="12.23" height="6.17" fill="#ffffff"/>
<rect x="590.19" y="46.33" width="6.26" height="6.17" fill="#737373"/>
<rect x="596.15" y="46.33" width="12.23" height="6.17" fill="#ffffff"/>
<rect x="608.08" y="46.33" width="6.26" height="6.17" fill="#ababab"/>
<rect x="614.04" y="46.33" width="6.26" height="6.17" fill="#737373"/>
<rect x="620.00" y="46.33" width="6.26" height="6.17" fill="#ffffff"/>
<rect x="625.96" y="46.33" width="6.26" height="6.17" fill="#000000"/>
<rect x="631.92" y="46.33" width="12.23" height="6.17" fill="#737373"/>
<rect x="643.85" y="46.33" width="12.23" height="6.17" fill="#4c4c4c"/>
<rect x="655.78" y="46.33" width="24.15" height="6.17" fill="#737373"/>
<rect x="560.38" y="52.20" width="18.19" height="6.17" fill="#4c4c4c"/>
<rect x="578.26" y="52.20" width="12.23" height="6.17" fill="#ffffff"/>
<rect x="590.19" y="52.20" width="12.23" height="6.17" fill="#737373"/>
<rect x="602.11" y="52.20" width="6.26" height="6.17" fill="#ffffff"/>
<rect x="608.08" y="52.20" width="6.26" height="6.17" fill="#d1d1d1"/>
<rect x="614.04" y="52.20" width="12.23" height="6.17" fill="#ffffff"/>
<rect x="625.96" y="52.20" width="6.26" height="6.17" fill="#000000"/>
<rect x="631.92" y="52.20" width="24.15" height="6.17" fill="#4c4c4c"/>
<rect x="655.78" y="52.20" width="6.26" height="6.17" fill="#737373"/>
<rect x="661.74" y="52.20" width="18.19" height="6.17" fill="#d1d1d1"/>
<rect x="560.38" y="58.08" width="18.19" height="6.17" fill="#262626"/>
<rect x="578.26" y="58.08" width="12.23" height="6.17" fill="#ffffff"/>
<rect x="590.19" y="58.08" width="6.26" height="6.17" fill="#737373"/>
<rect x="596.15" y="58.08" width="6.26" height="6.17" fill="#4c4c4c"/>
<rect x="602.11" y="58.08" width="6.26" height="6.17" fill="#737373"/>
<rect x="608.08" y="58.08" width="12.23" height="6.17" fill="#ffffff"/>
<rect x="620.00" y="58.08" width="6.26" height="6.17" fill="#d1d1d1"/>
<rect x="625.96" y="58.08" width="18.19" height="6.17" fill="#000000"/>
<rect x="643.85" y="58.08" width="12.23" height="6.17" fill="#4c4c4c"/>
<rect x="655.78" y="58.08" width="6.26" height="6.17" fill="#737373"/>
<rect x="661.74" y="58.08" width="18.19" height="6.17" fill="#d1d1d1"/>
<rect x="560.38" y="63.95" width="18.19" height="6.17" fill="#262626"/>
<rect x="578.26" y="63.95" width="12.23" height="6.17" fill="#ffffff"/>
<rect x="590.19" y="63.95" width="6.26" height="6.17" fill="#737373"/>
<rect x="596.15" y="63.95" width="6.26" height="6.17" fill="#4c4c4c"/>
<rect x="602.11" y="63.95" width="6.26" height="6.17" fill="#737373"/>
<rect x="608.08" y="63.95" width="12.23" height="6.17" fill="#ffffff"/>
<rect x="620.00" y="63.95" width="6.26" height="6.17" fill="#d1d1d1"/>
<rect x="625.96" y="63.95" width="18.19" height="6.17" fill="#000000"/>
<rect x="643.85" y="63.95" width="12.23" height="6.17" fill="#4c4c4c"/>
<rect x="655.78" y="63.95" width="24.15" height="6.17" fill="#737373"/>
<rect x="560.38" y="69.83" width="18.19" height="6.17" fill="#262626"/>
<rect x="578.26" y="69.83" width="12.23" height="6.17" fill="#ffffff"/>
<rect x="590.19" y="69.83" width="6.26" height="6.17" fill="#737373"/>
<rect x="596.15" y="69.83" width="6.26" height="6.17" fill="#4c4c4c"/>
<rect x="602.11" y="69.83" width="6.26" height="6.17" fill="#737373"/>
<rect x="608.08" y="69.83" width="18.19" height="6.17" fill="#ffffff"/>
<rect x="625.96" y="69.83" width="18.19" height="6.17" fill="#000000"/>
<rect x="643.85" y="69.83" width="6.26" height="6.17" fill="#262626"/>
<rect x="649.81" y="69.83" width="6.26" height="6.17" fill="#4c4c4c"/>
<rect x="655.78" y="69.83" width="24.15" height="6.17" fill="#737373"/>
<rect x="560.38" y="75.70" width="18.19" height="6.17" fill="#737373"/>
<rect x="578.26" y="75.70" width="12.23" height="6.17" fill="#ffffff"/>
<rect x="590.19" y="75.70" width="6.26" height="6.17" fill="#4c4c4c"/>
<rect x="596.15" y="75.70" width="6.26" height="6.17" fill="#737373"/>
<rect x="602.11" y="75.70" width="24.15" height="6.17" fill="#ffffff"/>
<rect x="625.96" y="75.70" width="6.26" height="6.17" fill="#d1d1d1"/>
<rect x="631.92" y="75.70" width="6.26" height="6.17" fill="#000000"/>
<rect x="637.89" y="75.70" width="24.15" height="6.17" fill="#4c4c4c"/>
<rect x="661.74" y="75.70" width="18.19" height="6.17" fill="#737373"/>
<rect x="560.38" y="81.58" width="18.19" height="6.17" fill="#737373"/>
<rect x="578.26" y="81.58" width="12.23" height="6.17" fill="#000000"/>
<rect x="590.19" y="81.58" width="6.26" height="6.17" fill="#4c4c4c"/>
<rect x="596.15" y="81.58" width="6.26" height="6.17" fill="#737373"/>
<rect x="602.11" y="81.58" width="18.19" height="6.17" fill="#ffffff"/>
<rect x="620.00" y="81.58" width="6.26" height="6.17" fill="#000000"/>
<rect x="625.96" y="81.58" width="6.26" height="6.17" fill="#4c4c4c"/>
<rect x="631.92" y="81.58" width="12.23" height="6.17" fill="#737373"/>
<rect x="643.85" y="81.58" width="6.26" height="6.17" fill="#4c4c4c"/>
<rect x="649.81" y="81.58" width="6.26" height="6.17" fill="#262626"/>
<rect x="655.78" y="81.58" width="6.26" height="6.17" fill="#4c4c4c"/>
<rect x="661.74" y="81.58" width="18.19" height="6.17" fill="#737373"/>
<rect x="560.38" y="87.45" width="18.19" height="6.17" fill="#ababab"/>
<rect x="578.26" y="87.45" width="12.23" height="6.17" fill="#000000"/>
<rect x="590.19" y="87.45" width="6.26" height="6.17" fill="#4c4c4c"/>
<rect x="596.15" y="87.45" width="6.26" height="6.17" fill="#737373"/>
<rect x="602.11" y="87.45" width="6.26" height="6.17" fill="#ffffff"/>
<rect x="608.08" y="87.45" width="6.26" height="6.17" fill="#d1d1d1"/>
<rect x="614.04" y="87.45" width="12.23" height="6.17" fill="#000000"/>
<rect x="625.96" y="87.45" width="6.26" height="6.17" fill="#4c4c4c"/>
<rect x="631.92" y="87.45" width="12.23" height="6.17" fill="#737373"/>
<rect x="643.85" y="87.45" width="6.26" height="6.17" fill="#262626"/>
<rect x="649.81" y="87.45" width="6.26" height="6.17" fill="#000000"/>
<rect x="655.78" y="87.45" width="6.26" height="6.17" fill="#262626"/>
<rect x="661.74" y="87.45" width="18.19" height="6.17" fill="#737373"/>
<rect x="560.38" y="93.33" width="18.19" height="6.17" fill="#d1d1d1"/>
<rect x="578.26" y="93.33" width="12.23" height="6.17" fill="#000000"/>
<rect x="590.19" y="93.33" width="6.26" height="6.17" fill="#4c4c4c"/>
<rect x="596.15" y="93.33" width="6.26" height="6.17" fill="#737373"/>
<rect x="602.11" y="93.33" width="6.26" height="6.17" fill="#ababab"/>
<rect x="608.08" y="93.33" width="6.26" height="6.17" fill="#737373"/>
<rect x="614.04" y="93.33" width="12.23" height="6.17" fill="#000000"/>
<rect x="625.96" y="93.33" width="6.26" height="6.17" fill="#4c4c4c"/>
<rect x="631.92" y="93.33" width="6.26" height="6.17" fill="#737373"/>
<rect x="637.89" y="93.33" width="6.26" height="6.17" fill="#4c4c4c"/>
<rect x="643.85" y="93.33" width="18.19" height="6.17" fill="#000000"/>
<rect x="661.74" y="93.33" width="18.19" height="6.17" fill="#262626"/>
<rect x="560.38" y="99.20" width="18.19" height="6.17" fill="#ababab"/>
<rect x="578.26" y="99.20" width="12.23" height="6.17" fill="#000000"/>
<rect x="590.19" y="99.20" width="12.23" height="6.17" fill="#4c4c4c"/>
<rect x="602.11" y="99.20" width="6.26" height="6.17" fill="#737373"/>
<rect x="608.08" y="99.20" width="6.26" height="6.17" fill="#262626"/>
<rect x="614.04" y="99.20" width="12.23" height="6.17" fill="#000000"/>
<rect x="625.96" y="99.20" width="6.26" height="6.17" fill="#262626"/>
<rect x="631.92" y="99.20" width="6.26" height="6.17" fill="#4c4c4c"/>
<rect x="637.89" y="99.20" width="6.26" height="6.17" fill="#262626"/>
<rect x="643.85" y="99.20" width="36.08" height="6.17" fill="#000000"/>
<rect x="560.38" y="105.08" width="18.19" height="6.17" fill="#737373"/>
<rect x="578.26" y="105.08" width="6.26" height="6.17" fill="#000000"/>
<rect x="584.22" y="105.08" width="6.26" height="6.17" fill="#262626"/>
<rect x="590.19" y="105.08" width="18.19" height="6.17" fill="#4c4c4c"/>
<rect x="608.08" y="105.08" width="12.23" height="6.17" fill="#262626"/>
<rect x="620.00" y="105.08" width="12.23" height="6.17" fill="#000000"/>
<rect x="631.92" y="105.08" width="6.26" height="6.17" fill="#262626"/>
<rect x="637.89" y="105.08" width="42.04" height="6.17" fill="#000000"/>
<rect x="560.38" y="110.95" width="18.19" height="6.17" fill="#4c4c4c"/>
<rect x="578.26" y="110.95" width="6.26" height="6.17" fill="#000000"/>
<rect x="584.22" y="110.95" width="6.26" height="6.17" fill="#262626"/>
<rect x="590.19" y="110.95" width="18.19" height="6.17" fill="#ffffff"/>
<rect x="608.08" y="110.95" width="6.26" height="6.17" fill="#d1d1d1"/>
<rect x="614.04" y="110.95" width="6.26" height="6.17" fill="#4c4c4c"/>
<rect x="620.00" y="110.95" width="59.93" height="6.17" fill="#000000"/>
<rect x="560.38" y="116.83" width="30.11" height="6.17" fill="#ffffff"/>
<rect x="590.19" y="116.83" width="6.26" height="6.17" fill="#d1d1d1"/>
<rect x="596.15" y="116.83" width="6.26" height="6.17" fill="#000000"/>
<rect x="602.11" y="116.83" width="6.26" height="6.17" fill="#ababab"/>
<rect x="608.08" y="116.83" width="6.26" height="6.17" fill="#4c4c4c"/>
<rect x="614.04" y="116.83" width="6.26" height="6.17" fill="#262626"/>
<rect x="620.00" y="116.83" width="59.93" height="6.17" fill="#000000"/>
<rect x="560.38" y="122.70" width="30.11" height="6.17" fill="#ffffff"/>
<rect x="590.19" y="122.70" width="6.26" height="6.17" fill="#d1d1d1"/>
<rect x="596.15" y="122.70" width="6.26" height="6.17" fill="#000000"/>
<rect x="602.11" y="122.70" width="6.26" height="6.17" fill="#ababab"/>
<rect x="608.08" y="122.70" width="6.26" height="6.17" fill="#4c4c4c"/>
<rect x="614.04" y="122.70" width="6.26" height="6.17" fill="#262626"/>
<rect x="620.00" y="122.70" width="59.93" height="6.17" fill="#000000"/>
<rect x="560.38" y="128.57" width="30.11" height="6.17" fill="#ffffff"/>
<rect x="590.19" y="128.57" width="6.26" height="6.17" fill="#d1d1d1"/>
<rect x="596.15" y="128.57" width="6.26" height="6.17" fill="#000000"/>
<rect x="602.11" y="128.57" width="6.26" height="6.17" fill="#ababab"/>
<rect x="608.08" y="128.57" width="6.26" height="6.17" fill="#4c4c4c"/>
<rect x="614.04" y="128.57" width="6.26" height="6.17" fill="#262626"/>
<rect x="620.00" y="128.57" width="59.93" height="6.17" fill="#000000"/>
</g>
<rect x="572.30" y="28.70" width="95.40" height="94.00" fill="url(#hdots)"/>
</g>
<line x1="573.20" y1="28.70" x2="573.20" y2="122.70" stroke="#3a2a2a" stroke-width="1.8"/>
<line x1="572.30" y1="29.20" x2="667.70" y2="29.20" stroke="#4a3a30" stroke-width="1.1" opacity="0.8"/>
<rect x="670.40" y="29.30" width="5.50" height="92.50" fill="url(#hcbar)"/>
<line x1="670.40" y1="48.26" x2="675.90" y2="48.26" stroke="#555" stroke-width="0.6" opacity="0.7"/>
<line x1="670.40" y1="67.22" x2="675.90" y2="67.22" stroke="#555" stroke-width="0.6" opacity="0.7"/>
<line x1="670.40" y1="87.58" x2="675.90" y2="87.58" stroke="#555" stroke-width="0.6" opacity="0.7"/>
<line x1="670.40" y1="106.07" x2="675.90" y2="106.07" stroke="#555" stroke-width="0.6" opacity="0.7"/>
<filter id="hfb" x="-5%" y="-5%" width="110%" height="110%" color-interpolation-filters="sRGB"><feGaussianBlur stdDeviation="1.50"/><feComponentTransfer><feFuncR type="table" tableValues="0.051 0.065 0.080 0.094 0.108 0.123 0.137 0.152 0.166 0.180 0.200 0.220 0.241 0.261 0.281 0.301 0.321 0.341 0.361 0.371 0.382 0.392 0.403 0.413 0.424 0.434 0.444 0.455 0.490 0.525 0.559 0.594 0.629 0.664 0.699 0.732 0.765 0.797 0.830 0.863 0.895 0.905 0.910 0.914 0.919 0.923 0.927 0.932 0.936 0.940 0.939 0.936 0.933 0.930 0.927 0.924 0.921 0.919 0.916 0.913 0.910"/><feFuncG type="table" tableValues="0.314 0.350 0.387 0.424 0.460 0.497 0.533 0.570 0.607 0.643 0.655 0.667 0.678 0.690 0.702 0.714 0.725 0.737 0.749 0.749 0.750 0.750 0.751 0.751 0.752 0.752 0.753 0.753 0.764 0.775 0.786 0.797 0.807 0.818 0.829 0.836 0.841 0.846 0.851 0.856 0.862 0.835 0.800 0.765 0.730 0.695 0.661 0.626 0.591 0.556 0.528 0.503 0.477 0.451 0.425 0.399 0.374 0.348 0.322 0.296 0.271"/><feFuncB type="table" tableValues="0.651 0.673 0.695 0.716 0.738 0.760 0.782 0.803 0.825 0.847 0.853 0.859 0.865 0.871 0.878 0.884 0.890 0.896 0.902 0.837 0.771 0.706 0.641 0.575 0.510 0.444 0.379 0.314 0.307 0.301 0.294 0.288 0.281 0.275 0.268 0.262 0.257 0.252 0.247 0.242 0.236 0.230 0.223 0.216 0.209 0.202 0.195 0.188 0.181 0.174 0.170 0.167 0.163 0.160 0.157 0.154 0.150 0.147 0.144 0.141 0.137"/></feComponentTransfer></filter>
<clipPath id="hcb"><rect x="572.30" y="145.00" width="94.20" height="96.00"/></clipPath>
<g clip-path="url(#hcb)"><g filter="url(#hfb)">
<rect x="560.52" y="133.00" width="29.74" height="6.30" fill="#737373"/>
<rect x="589.96" y="133.00" width="29.74" height="6.30" fill="#4c4c4c"/>
<rect x="619.40" y="133.00" width="23.85" height="6.30" fill="#737373"/>
<rect x="642.95" y="133.00" width="6.19" height="6.30" fill="#262626"/>
<rect x="648.84" y="133.00" width="6.19" height="6.30" fill="#737373"/>
<rect x="654.73" y="133.00" width="6.19" height="6.30" fill="#ffffff"/>
<rect x="660.61" y="133.00" width="17.96" height="6.30" fill="#737373"/>
<rect x="560.52" y="139.00" width="29.74" height="6.30" fill="#737373"/>
<rect x="589.96" y="139.00" width="29.74" height="6.30" fill="#4c4c4c"/>
<rect x="619.40" y="139.00" width="23.85" height="6.30" fill="#737373"/>
<rect x="642.95" y="139.00" width="6.19" height="6.30" fill="#262626"/>
<rect x="648.84" y="139.00" width="6.19" height="6.30" fill="#737373"/>
<rect x="654.73" y="139.00" width="6.19" height="6.30" fill="#ffffff"/>
<rect x="660.61" y="139.00" width="17.96" height="6.30" fill="#737373"/>
<rect x="560.52" y="145.00" width="29.74" height="6.30" fill="#737373"/>
<rect x="589.96" y="145.00" width="29.74" height="6.30" fill="#4c4c4c"/>
<rect x="619.40" y="145.00" width="23.85" height="6.30" fill="#737373"/>
<rect x="642.95" y="145.00" width="6.19" height="6.30" fill="#262626"/>
<rect x="648.84" y="145.00" width="6.19" height="6.30" fill="#737373"/>
<rect x="654.73" y="145.00" width="6.19" height="6.30" fill="#ffffff"/>
<rect x="660.61" y="145.00" width="17.96" height="6.30" fill="#737373"/>
<rect x="560.52" y="151.00" width="29.74" height="6.30" fill="#737373"/>
<rect x="589.96" y="151.00" width="12.08" height="6.30" fill="#000000"/>
<rect x="601.74" y="151.00" width="6.19" height="6.30" fill="#4c4c4c"/>
<rect x="607.62" y="151.00" width="6.19" height="6.30" fill="#000000"/>
<rect x="613.51" y="151.00" width="6.19" height="6.30" fill="#262626"/>
<rect x="619.40" y="151.00" width="6.19" height="6.30" fill="#4c4c4c"/>
<rect x="625.29" y="151.00" width="6.19" height="6.30" fill="#ababab"/>
<rect x="631.17" y="151.00" width="17.96" height="6.30" fill="#737373"/>
<rect x="648.84" y="151.00" width="6.19" height="6.30" fill="#ababab"/>
<rect x="654.73" y="151.00" width="6.19" height="6.30" fill="#ffffff"/>
<rect x="660.61" y="151.00" width="17.96" height="6.30" fill="#737373"/>
<rect x="560.52" y="157.00" width="17.96" height="6.30" fill="#4c4c4c"/>
<rect x="578.19" y="157.00" width="12.08" height="6.30" fill="#737373"/>
<rect x="589.96" y="157.00" width="6.19" height="6.30" fill="#000000"/>
<rect x="595.85" y="157.00" width="6.19" height="6.30" fill="#262626"/>
<rect x="601.74" y="157.00" width="6.19" height="6.30" fill="#4c4c4c"/>
<rect x="607.62" y="157.00" width="12.08" height="6.30" fill="#000000"/>
<rect x="619.40" y="157.00" width="12.08" height="6.30" fill="#4c4c4c"/>
<rect x="631.17" y="157.00" width="17.96" height="6.30" fill="#737373"/>
<rect x="648.84" y="157.00" width="6.19" height="6.30" fill="#ffffff"/>
<rect x="654.73" y="157.00" width="6.19" height="6.30" fill="#d1d1d1"/>
<rect x="660.61" y="157.00" width="17.96" height="6.30" fill="#737373"/>
<rect x="560.52" y="163.00" width="17.96" height="6.30" fill="#000000"/>
<rect x="578.19" y="163.00" width="6.19" height="6.30" fill="#737373"/>
<rect x="584.07" y="163.00" width="6.19" height="6.30" fill="#919191"/>
<rect x="589.96" y="163.00" width="12.08" height="6.30" fill="#000000"/>
<rect x="601.74" y="163.00" width="12.08" height="6.30" fill="#4c4c4c"/>
<rect x="613.51" y="163.00" width="12.08" height="6.30" fill="#262626"/>
<rect x="625.29" y="163.00" width="6.19" height="6.30" fill="#4c4c4c"/>
<rect x="631.17" y="163.00" width="17.96" height="6.30" fill="#737373"/>
<rect x="648.84" y="163.00" width="6.19" height="6.30" fill="#ffffff"/>
<rect x="654.73" y="163.00" width="6.19" height="6.30" fill="#ababab"/>
<rect x="660.61" y="163.00" width="17.96" height="6.30" fill="#737373"/>
<rect x="560.52" y="169.00" width="17.96" height="6.30" fill="#000000"/>
<rect x="578.19" y="169.00" width="12.08" height="6.30" fill="#4c4c4c"/>
<rect x="589.96" y="169.00" width="6.19" height="6.30" fill="#000000"/>
<rect x="595.85" y="169.00" width="6.19" height="6.30" fill="#262626"/>
<rect x="601.74" y="169.00" width="23.85" height="6.30" fill="#4c4c4c"/>
<rect x="625.29" y="169.00" width="23.85" height="6.30" fill="#737373"/>
<rect x="648.84" y="169.00" width="6.19" height="6.30" fill="#ababab"/>
<rect x="654.73" y="169.00" width="23.85" height="6.30" fill="#737373"/>
<rect x="560.52" y="175.00" width="17.96" height="6.30" fill="#4c4c4c"/>
<rect x="578.19" y="175.00" width="6.19" height="6.30" fill="#ffffff"/>
<rect x="584.07" y="175.00" width="12.08" height="6.30" fill="#000000"/>
<rect x="595.85" y="175.00" width="6.19" height="6.30" fill="#262626"/>
<rect x="601.74" y="175.00" width="23.85" height="6.30" fill="#4c4c4c"/>
<rect x="625.29" y="175.00" width="6.19" height="6.30" fill="#ababab"/>
<rect x="631.17" y="175.00" width="23.85" height="6.30" fill="#737373"/>
<rect x="654.73" y="175.00" width="6.19" height="6.30" fill="#ababab"/>
<rect x="660.61" y="175.00" width="17.96" height="6.30" fill="#737373"/>
<rect x="560.52" y="181.00" width="23.85" height="6.30" fill="#ffffff"/>
<rect x="584.07" y="181.00" width="12.08" height="6.30" fill="#000000"/>
<rect x="595.85" y="181.00" width="29.74" height="6.30" fill="#4c4c4c"/>
<rect x="625.29" y="181.00" width="6.19" height="6.30" fill="#ffffff"/>
<rect x="631.17" y="181.00" width="6.19" height="6.30" fill="#737373"/>
<rect x="637.06" y="181.00" width="6.19" height="6.30" fill="#4c4c4c"/>
<rect x="642.95" y="181.00" width="12.08" height="6.30" fill="#737373"/>
<rect x="654.73" y="181.00" width="6.19" height="6.30" fill="#ababab"/>
<rect x="660.61" y="181.00" width="17.96" height="6.30" fill="#737373"/>
<rect x="560.52" y="187.00" width="23.85" height="6.30" fill="#ffffff"/>
<rect x="584.07" y="187.00" width="12.08" height="6.30" fill="#000000"/>
<rect x="595.85" y="187.00" width="12.08" height="6.30" fill="#4c4c4c"/>
<rect x="607.62" y="187.00" width="6.19" height="6.30" fill="#ffffff"/>
<rect x="613.51" y="187.00" width="6.19" height="6.30" fill="#d1d1d1"/>
<rect x="619.40" y="187.00" width="6.19" height="6.30" fill="#4c4c4c"/>
<rect x="625.29" y="187.00" width="6.19" height="6.30" fill="#ffffff"/>
<rect x="631.17" y="187.00" width="6.19" height="6.30" fill="#4c4c4c"/>
<rect x="637.06" y="187.00" width="6.19" height="6.30" fill="#000000"/>
<rect x="642.95" y="187.00" width="6.19" height="6.30" fill="#737373"/>
<rect x="648.84" y="187.00" width="6.19" height="6.30" fill="#ababab"/>
<rect x="654.73" y="187.00" width="23.85" height="6.30" fill="#737373"/>
<rect x="560.52" y="193.00" width="17.96" height="6.30" fill="#ababab"/>
<rect x="578.19" y="193.00" width="6.19" height="6.30" fill="#ffffff"/>
<rect x="584.07" y="193.00" width="6.19" height="6.30" fill="#000000"/>
<rect x="589.96" y="193.00" width="6.19" height="6.30" fill="#262626"/>
<rect x="595.85" y="193.00" width="12.08" height="6.30" fill="#4c4c4c"/>
<rect x="607.62" y="193.00" width="6.19" height="6.30" fill="#d1d1d1"/>
<rect x="613.51" y="193.00" width="12.08" height="6.30" fill="#ffffff"/>
<rect x="625.29" y="193.00" width="6.19" height="6.30" fill="#d1d1d1"/>
<rect x="631.17" y="193.00" width="6.19" height="6.30" fill="#737373"/>
<rect x="637.06" y="193.00" width="6.19" height="6.30" fill="#4c4c4c"/>
<rect x="642.95" y="193.00" width="6.19" height="6.30" fill="#000000"/>
<rect x="648.84" y="193.00" width="6.19" height="6.30" fill="#4c4c4c"/>
<rect x="654.73" y="193.00" width="23.85" height="6.30" fill="#737373"/>
<rect x="560.52" y="199.00" width="17.96" height="6.30" fill="#4c4c4c"/>
<rect x="578.19" y="199.00" width="6.19" height="6.30" fill="#000000"/>
<rect x="584.07" y="199.00" width="6.19" height="6.30" fill="#4c4c4c"/>
<rect x="589.96" y="199.00" width="12.08" height="6.30" fill="#000000"/>
<rect x="601.74" y="199.00" width="6.19" height="6.30" fill="#4c4c4c"/>
<rect x="607.62" y="199.00" width="6.19" height="6.30" fill="#ababab"/>
<rect x="613.51" y="199.00" width="12.08" height="6.30" fill="#ffffff"/>
<rect x="625.29" y="199.00" width="6.19" height="6.30" fill="#d1d1d1"/>
<rect x="631.17" y="199.00" width="6.19" height="6.30" fill="#262626"/>
<rect x="637.06" y="199.00" width="6.19" height="6.30" fill="#737373"/>
<rect x="642.95" y="199.00" width="6.19" height="6.30" fill="#4c4c4c"/>
<rect x="648.84" y="199.00" width="6.19" height="6.30" fill="#262626"/>
<rect x="654.73" y="199.00" width="23.85" height="6.30" fill="#000000"/>
<rect x="560.52" y="205.00" width="17.96" height="6.30" fill="#4c4c4c"/>
<rect x="578.19" y="205.00" width="6.19" height="6.30" fill="#000000"/>
<rect x="584.07" y="205.00" width="6.19" height="6.30" fill="#262626"/>
<rect x="589.96" y="205.00" width="12.08" height="6.30" fill="#000000"/>
<rect x="601.74" y="205.00" width="17.96" height="6.30" fill="#737373"/>
<rect x="619.40" y="205.00" width="6.19" height="6.30" fill="#ffffff"/>
<rect x="625.29" y="205.00" width="6.19" height="6.30" fill="#737373"/>
<rect x="631.17" y="205.00" width="6.19" height="6.30" fill="#000000"/>
<rect x="637.06" y="205.00" width="6.19" height="6.30" fill="#737373"/>
<rect x="642.95" y="205.00" width="6.19" height="6.30" fill="#4c4c4c"/>
<rect x="648.84" y="205.00" width="6.19" height="6.30" fill="#262626"/>
<rect x="654.73" y="205.00" width="6.19" height="6.30" fill="#000000"/>
<rect x="660.61" y="205.00" width="17.96" height="6.30" fill="#4c4c4c"/>
<rect x="560.52" y="211.00" width="23.85" height="6.30" fill="#000000"/>
<rect x="584.07" y="211.00" width="6.19" height="6.30" fill="#4c4c4c"/>
<rect x="589.96" y="211.00" width="12.08" height="6.30" fill="#000000"/>
<rect x="601.74" y="211.00" width="6.19" height="6.30" fill="#737373"/>
<rect x="607.62" y="211.00" width="6.19" height="6.30" fill="#ababab"/>
<rect x="613.51" y="211.00" width="12.08" height="6.30" fill="#ffffff"/>
<rect x="625.29" y="211.00" width="6.19" height="6.30" fill="#737373"/>
<rect x="631.17" y="211.00" width="6.19" height="6.30" fill="#262626"/>
<rect x="637.06" y="211.00" width="41.51" height="6.30" fill="#737373"/>
<rect x="560.52" y="217.00" width="23.85" height="6.30" fill="#000000"/>
<rect x="584.07" y="217.00" width="6.19" height="6.30" fill="#4c4c4c"/>
<rect x="589.96" y="217.00" width="12.08" height="6.30" fill="#000000"/>
<rect x="601.74" y="217.00" width="6.19" height="6.30" fill="#d1d1d1"/>
<rect x="607.62" y="217.00" width="12.08" height="6.30" fill="#ffffff"/>
<rect x="619.40" y="217.00" width="6.19" height="6.30" fill="#d1d1d1"/>
<rect x="625.29" y="217.00" width="53.29" height="6.30" fill="#737373"/>
<rect x="560.52" y="223.00" width="17.96" height="6.30" fill="#4c4c4c"/>
<rect x="578.19" y="223.00" width="6.19" height="6.30" fill="#000000"/>
<rect x="584.07" y="223.00" width="6.19" height="6.30" fill="#737373"/>
<rect x="589.96" y="223.00" width="12.08" height="6.30" fill="#000000"/>
<rect x="601.74" y="223.00" width="12.08" height="6.30" fill="#ffffff"/>
<rect x="613.51" y="223.00" width="6.19" height="6.30" fill="#d1d1d1"/>
<rect x="619.40" y="223.00" width="6.19" height="6.30" fill="#ababab"/>
<rect x="625.29" y="223.00" width="23.85" height="6.30" fill="#737373"/>
<rect x="648.84" y="223.00" width="6.19" height="6.30" fill="#ababab"/>
<rect x="654.73" y="223.00" width="6.19" height="6.30" fill="#d1d1d1"/>
<rect x="660.61" y="223.00" width="17.96" height="6.30" fill="#ffffff"/>
<rect x="560.52" y="229.00" width="23.85" height="6.30" fill="#000000"/>
<rect x="584.07" y="229.00" width="6.19" height="6.30" fill="#ababab"/>
<rect x="589.96" y="229.00" width="6.19" height="6.30" fill="#000000"/>
<rect x="595.85" y="229.00" width="17.96" height="6.30" fill="#ffffff"/>
<rect x="613.51" y="229.00" width="12.08" height="6.30" fill="#ababab"/>
<rect x="625.29" y="229.00" width="12.08" height="6.30" fill="#737373"/>
<rect x="637.06" y="229.00" width="6.19" height="6.30" fill="#ababab"/>
<rect x="642.95" y="229.00" width="6.19" height="6.30" fill="#d1d1d1"/>
<rect x="648.84" y="229.00" width="29.74" height="6.30" fill="#ffffff"/>
<rect x="560.52" y="235.00" width="23.85" height="6.30" fill="#000000"/>
<rect x="584.07" y="235.00" width="6.19" height="6.30" fill="#d1d1d1"/>
<rect x="589.96" y="235.00" width="23.85" height="6.30" fill="#ffffff"/>
<rect x="613.51" y="235.00" width="6.19" height="6.30" fill="#ababab"/>
<rect x="619.40" y="235.00" width="12.08" height="6.30" fill="#737373"/>
<rect x="631.17" y="235.00" width="6.19" height="6.30" fill="#ababab"/>
<rect x="637.06" y="235.00" width="41.51" height="6.30" fill="#ffffff"/>
<rect x="560.52" y="241.00" width="23.85" height="6.30" fill="#000000"/>
<rect x="584.07" y="241.00" width="6.19" height="6.30" fill="#d1d1d1"/>
<rect x="589.96" y="241.00" width="23.85" height="6.30" fill="#ffffff"/>
<rect x="613.51" y="241.00" width="6.19" height="6.30" fill="#ababab"/>
<rect x="619.40" y="241.00" width="12.08" height="6.30" fill="#737373"/>
<rect x="631.17" y="241.00" width="6.19" height="6.30" fill="#ababab"/>
<rect x="637.06" y="241.00" width="41.51" height="6.30" fill="#ffffff"/>
<rect x="560.52" y="247.00" width="23.85" height="6.30" fill="#000000"/>
<rect x="584.07" y="247.00" width="6.19" height="6.30" fill="#d1d1d1"/>
<rect x="589.96" y="247.00" width="23.85" height="6.30" fill="#ffffff"/>
<rect x="613.51" y="247.00" width="6.19" height="6.30" fill="#ababab"/>
<rect x="619.40" y="247.00" width="12.08" height="6.30" fill="#737373"/>
<rect x="631.17" y="247.00" width="6.19" height="6.30" fill="#ababab"/>
<rect x="637.06" y="247.00" width="41.51" height="6.30" fill="#ffffff"/>
</g>
<rect x="572.30" y="145.00" width="94.20" height="96.00" fill="url(#hdots)"/>
</g>
<line x1="573.20" y1="145.00" x2="573.20" y2="241.00" stroke="#3a2a2a" stroke-width="1.8"/>
<line x1="572.30" y1="145.50" x2="666.50" y2="145.50" stroke="#4a3a30" stroke-width="1.1" opacity="0.8"/>
<rect x="670.40" y="145.00" width="5.50" height="96.00" fill="url(#hcbar)"/>
<line x1="670.40" y1="164.68" x2="675.90" y2="164.68" stroke="#555" stroke-width="0.6" opacity="0.7"/>
<line x1="670.40" y1="184.36" x2="675.90" y2="184.36" stroke="#555" stroke-width="0.6" opacity="0.7"/>
<line x1="670.40" y1="205.48" x2="675.90" y2="205.48" stroke="#555" stroke-width="0.6" opacity="0.7"/>
<line x1="670.40" y1="224.68" x2="675.90" y2="224.68" stroke="#555" stroke-width="0.6" opacity="0.7"/>
<filter id="hfc" x="-5%" y="-5%" width="110%" height="110%" color-interpolation-filters="sRGB"><feGaussianBlur stdDeviation="1.50"/><feComponentTransfer><feFuncR type="table" tableValues="0.051 0.065 0.080 0.094 0.108 0.123 0.137 0.152 0.166 0.180 0.210 0.240 0.269 0.299 0.329 0.358 0.388 0.417 0.447 0.448 0.449 0.450 0.451 0.451 0.452 0.453 0.454 0.455 0.490 0.525 0.559 0.594 0.629 0.664 0.699 0.732 0.765 0.797 0.830 0.863 0.895 0.905 0.910 0.914 0.919 0.923 0.927 0.932 0.936 0.940 0.939 0.936 0.933 0.930 0.927 0.924 0.921 0.919 0.916 0.913 0.910"/><feFuncG type="table" tableValues="0.314 0.350 0.387 0.424 0.460 0.497 0.533 0.570 0.607 0.643 0.662 0.681 0.701 0.720 0.739 0.758 0.777 0.797 0.816 0.809 0.802 0.795 0.788 0.781 0.774 0.767 0.760 0.753 0.764 0.775 0.786 0.797 0.807 0.818 0.829 0.836 0.841 0.846 0.851 0.856 0.862 0.835 0.800 0.765 0.730 0.695 0.661 0.626 0.591 0.556 0.528 0.503 0.477 0.451 0.425 0.399 0.374 0.348 0.322 0.296 0.271"/><feFuncB type="table" tableValues="0.651 0.673 0.695 0.716 0.738 0.760 0.782 0.803 0.825 0.847 0.838 0.830 0.821 0.812 0.803 0.795 0.786 0.777 0.769 0.718 0.668 0.617 0.566 0.516 0.465 0.415 0.364 0.314 0.307 0.301 0.294 0.288 0.281 0.275 0.268 0.262 0.257 0.252 0.247 0.242 0.236 0.230 0.223 0.216 0.209 0.202 0.195 0.188 0.181 0.174 0.170 0.167 0.163 0.160 0.157 0.154 0.150 0.147 0.144 0.141 0.137"/></feComponentTransfer></filter>
<clipPath id="hcc"><rect x="572.30" y="265.70" width="93.50" height="94.20"/></clipPath>
<g clip-path="url(#hcc)"><g filter="url(#hfc)">
<rect x="560.61" y="253.92" width="41.21" height="6.19" fill="#737373"/>
<rect x="601.52" y="253.92" width="11.99" height="6.19" fill="#4c4c4c"/>
<rect x="613.21" y="253.92" width="11.99" height="6.19" fill="#000000"/>
<rect x="624.89" y="253.92" width="17.83" height="6.19" fill="#ffffff"/>
<rect x="642.42" y="253.92" width="6.14" height="6.19" fill="#000000"/>
<rect x="648.27" y="253.92" width="11.99" height="6.19" fill="#ffffff"/>
<rect x="659.96" y="253.92" width="17.83" height="6.19" fill="#737373"/>
<rect x="560.61" y="259.81" width="41.21" height="6.19" fill="#737373"/>
<rect x="601.52" y="259.81" width="11.99" height="6.19" fill="#4c4c4c"/>
<rect x="613.21" y="259.81" width="11.99" height="6.19" fill="#000000"/>
<rect x="624.89" y="259.81" width="17.83" height="6.19" fill="#ffffff"/>
<rect x="642.42" y="259.81" width="6.14" height="6.19" fill="#000000"/>
<rect x="648.27" y="259.81" width="11.99" height="6.19" fill="#ffffff"/>
<rect x="659.96" y="259.81" width="17.83" height="6.19" fill="#737373"/>
<rect x="560.61" y="265.70" width="41.21" height="6.19" fill="#737373"/>
<rect x="601.52" y="265.70" width="11.99" height="6.19" fill="#4c4c4c"/>
<rect x="613.21" y="265.70" width="11.99" height="6.19" fill="#000000"/>
<rect x="624.89" y="265.70" width="17.83" height="6.19" fill="#ffffff"/>
<rect x="642.42" y="265.70" width="6.14" height="6.19" fill="#000000"/>
<rect x="648.27" y="265.70" width="11.99" height="6.19" fill="#ffffff"/>
<rect x="659.96" y="265.70" width="17.83" height="6.19" fill="#737373"/>
<rect x="560.61" y="271.59" width="52.89" height="6.19" fill="#737373"/>
<rect x="613.21" y="271.59" width="6.14" height="6.19" fill="#000000"/>
<rect x="619.05" y="271.59" width="6.14" height="6.19" fill="#d1d1d1"/>
<rect x="624.89" y="271.59" width="11.99" height="6.19" fill="#ffffff"/>
<rect x="636.58" y="271.59" width="6.14" height="6.19" fill="#d1d1d1"/>
<rect x="642.42" y="271.59" width="6.14" height="6.19" fill="#ffffff"/>
<rect x="648.27" y="271.59" width="6.14" height="6.19" fill="#4c4c4c"/>
<rect x="654.11" y="271.59" width="6.14" height="6.19" fill="#ffffff"/>
<rect x="659.96" y="271.59" width="17.83" height="6.19" fill="#737373"/>
<rect x="560.61" y="277.47" width="35.36" height="6.19" fill="#737373"/>
<rect x="595.67" y="277.47" width="6.14" height="6.19" fill="#d1d1d1"/>
<rect x="601.52" y="277.47" width="11.99" height="6.19" fill="#737373"/>
<rect x="613.21" y="277.47" width="6.14" height="6.19" fill="#262626"/>
<rect x="619.05" y="277.47" width="11.99" height="6.19" fill="#ffffff"/>
<rect x="630.74" y="277.47" width="6.14" height="6.19" fill="#d1d1d1"/>
<rect x="636.58" y="277.47" width="6.14" height="6.19" fill="#737373"/>
<rect x="642.42" y="277.47" width="6.14" height="6.19" fill="#ababab"/>
<rect x="648.27" y="277.47" width="6.14" height="6.19" fill="#737373"/>
<rect x="654.11" y="277.47" width="6.14" height="6.19" fill="#d1d1d1"/>
<rect x="659.96" y="277.47" width="17.83" height="6.19" fill="#737373"/>
<rect x="560.61" y="283.36" width="29.52" height="6.19" fill="#737373"/>
<rect x="589.83" y="283.36" width="6.14" height="6.19" fill="#d1d1d1"/>
<rect x="595.67" y="283.36" width="6.14" height="6.19" fill="#ffffff"/>
<rect x="601.52" y="283.36" width="11.99" height="6.19" fill="#737373"/>
<rect x="613.21" y="283.36" width="11.99" height="6.19" fill="#4c4c4c"/>
<rect x="624.89" y="283.36" width="17.83" height="6.19" fill="#737373"/>
<rect x="642.42" y="283.36" width="6.14" height="6.19" fill="#ffffff"/>
<rect x="648.27" y="283.36" width="6.14" height="6.19" fill="#d1d1d1"/>
<rect x="654.11" y="283.36" width="23.68" height="6.19" fill="#737373"/>
<rect x="560.61" y="289.25" width="17.83" height="6.19" fill="#737373"/>
<rect x="578.14" y="289.25" width="6.14" height="6.19" fill="#ababab"/>
<rect x="583.99" y="289.25" width="6.14" height="6.19" fill="#737373"/>
<rect x="589.83" y="289.25" width="6.14" height="6.19" fill="#d1d1d1"/>
<rect x="595.67" y="289.25" width="6.14" height="6.19" fill="#ffffff"/>
<rect x="601.52" y="289.25" width="6.14" height="6.19" fill="#ababab"/>
<rect x="607.36" y="289.25" width="29.52" height="6.19" fill="#737373"/>
<rect x="636.58" y="289.25" width="6.14" height="6.19" fill="#ababab"/>
<rect x="642.42" y="289.25" width="6.14" height="6.19" fill="#ffffff"/>
<rect x="648.27" y="289.25" width="6.14" height="6.19" fill="#d1d1d1"/>
<rect x="654.11" y="289.25" width="23.68" height="6.19" fill="#737373"/>
<rect x="560.61" y="295.14" width="17.83" height="6.19" fill="#737373"/>
<rect x="578.14" y="295.14" width="6.14" height="6.19" fill="#ababab"/>
<rect x="583.99" y="295.14" width="6.14" height="6.19" fill="#737373"/>
<rect x="589.83" y="295.14" width="11.99" height="6.19" fill="#ffffff"/>
<rect x="601.52" y="295.14" width="6.14" height="6.19" fill="#ababab"/>
<rect x="607.36" y="295.14" width="11.99" height="6.19" fill="#737373"/>
<rect x="619.05" y="295.14" width="6.14" height="6.19" fill="#ababab"/>
<rect x="624.89" y="295.14" width="6.14" height="6.19" fill="#d1d1d1"/>
<rect x="630.74" y="295.14" width="17.83" height="6.19" fill="#ffffff"/>
<rect x="648.27" y="295.14" width="6.14" height="6.19" fill="#ababab"/>
<rect x="654.11" y="295.14" width="23.68" height="6.19" fill="#737373"/>
<rect x="560.61" y="301.02" width="17.83" height="6.19" fill="#d1d1d1"/>
<rect x="578.14" y="301.02" width="6.14" height="6.19" fill="#ababab"/>
<rect x="583.99" y="301.02" width="6.14" height="6.19" fill="#d1d1d1"/>
<rect x="589.83" y="301.02" width="11.99" height="6.19" fill="#ffffff"/>
<rect x="601.52" y="301.02" width="6.14" height="6.19" fill="#ababab"/>
<rect x="607.36" y="301.02" width="6.14" height="6.19" fill="#737373"/>
<rect x="613.21" y="301.02" width="11.99" height="6.19" fill="#d1d1d1"/>
<rect x="624.89" y="301.02" width="11.99" height="6.19" fill="#ffffff"/>
<rect x="636.58" y="301.02" width="11.99" height="6.19" fill="#ababab"/>
<rect x="648.27" y="301.02" width="6.14" height="6.19" fill="#737373"/>
<rect x="654.11" y="301.02" width="6.14" height="6.19" fill="#4c4c4c"/>
<rect x="659.96" y="301.02" width="17.83" height="6.19" fill="#737373"/>
<rect x="560.61" y="306.91" width="41.21" height="6.19" fill="#ffffff"/>
<rect x="601.52" y="306.91" width="6.14" height="6.19" fill="#d1d1d1"/>
<rect x="607.36" y="306.91" width="6.14" height="6.19" fill="#737373"/>
<rect x="613.21" y="306.91" width="17.83" height="6.19" fill="#ffffff"/>
<rect x="630.74" y="306.91" width="6.14" height="6.19" fill="#d1d1d1"/>
<rect x="636.58" y="306.91" width="11.99" height="6.19" fill="#ababab"/>
<rect x="648.27" y="306.91" width="29.52" height="6.19" fill="#737373"/>
<rect x="560.61" y="312.80" width="41.21" height="6.19" fill="#ffffff"/>
<rect x="601.52" y="312.80" width="11.99" height="6.19" fill="#ababab"/>
<rect x="613.21" y="312.80" width="6.14" height="6.19" fill="#d1d1d1"/>
<rect x="619.05" y="312.80" width="6.14" height="6.19" fill="#ffffff"/>
<rect x="624.89" y="312.80" width="11.99" height="6.19" fill="#919191"/>
<rect x="636.58" y="312.80" width="17.83" height="6.19" fill="#ffffff"/>
<rect x="654.11" y="312.80" width="6.14" height="6.19" fill="#ababab"/>
<rect x="659.96" y="312.80" width="17.83" height="6.19" fill="#ffffff"/>
<rect x="560.61" y="318.69" width="17.83" height="6.19" fill="#ffffff"/>
<rect x="578.14" y="318.69" width="6.14" height="6.19" fill="#919191"/>
<rect x="583.99" y="318.69" width="17.83" height="6.19" fill="#ffffff"/>
<rect x="601.52" y="318.69" width="11.99" height="6.19" fill="#737373"/>
<rect x="613.21" y="318.69" width="11.99" height="6.19" fill="#ffffff"/>
<rect x="624.89" y="318.69" width="11.99" height="6.19" fill="#919191"/>
<rect x="636.58" y="318.69" width="6.14" height="6.19" fill="#ffffff"/>
<rect x="642.42" y="318.69" width="6.14" height="6.19" fill="#262626"/>
<rect x="648.27" y="318.69" width="29.52" height="6.19" fill="#ffffff"/>
<rect x="560.61" y="324.57" width="17.83" height="6.19" fill="#ffffff"/>
<rect x="578.14" y="324.57" width="6.14" height="6.19" fill="#ababab"/>
<rect x="583.99" y="324.57" width="17.83" height="6.19" fill="#ffffff"/>
<rect x="601.52" y="324.57" width="6.14" height="6.19" fill="#4c4c4c"/>
<rect x="607.36" y="324.57" width="6.14" height="6.19" fill="#737373"/>
<rect x="613.21" y="324.57" width="6.14" height="6.19" fill="#ffffff"/>
<rect x="619.05" y="324.57" width="6.14" height="6.19" fill="#d1d1d1"/>
<rect x="624.89" y="324.57" width="6.14" height="6.19" fill="#ababab"/>
<rect x="630.74" y="324.57" width="6.14" height="6.19" fill="#919191"/>
<rect x="636.58" y="324.57" width="6.14" height="6.19" fill="#ffffff"/>
<rect x="642.42" y="324.57" width="11.99" height="6.19" fill="#000000"/>
<rect x="654.11" y="324.57" width="23.68" height="6.19" fill="#ffffff"/>
<rect x="560.61" y="330.46" width="17.83" height="6.19" fill="#d1d1d1"/>
<rect x="578.14" y="330.46" width="6.14" height="6.19" fill="#ababab"/>
<rect x="583.99" y="330.46" width="11.99" height="6.19" fill="#737373"/>
<rect x="595.67" y="330.46" width="6.14" height="6.19" fill="#ffffff"/>
<rect x="601.52" y="330.46" width="6.14" height="6.19" fill="#ababab"/>
<rect x="607.36" y="330.46" width="11.99" height="6.19" fill="#ffffff"/>
<rect x="619.05" y="330.46" width="17.83" height="6.19" fill="#919191"/>
<rect x="636.58" y="330.46" width="6.14" height="6.19" fill="#ffffff"/>
<rect x="642.42" y="330.46" width="6.14" height="6.19" fill="#737373"/>
<rect x="648.27" y="330.46" width="29.52" height="6.19" fill="#ffffff"/>
<rect x="560.61" y="336.35" width="23.68" height="6.19" fill="#ababab"/>
<rect x="583.99" y="336.35" width="6.14" height="6.19" fill="#737373"/>
<rect x="589.83" y="336.35" width="6.14" height="6.19" fill="#ababab"/>
<rect x="595.67" y="336.35" width="17.83" height="6.19" fill="#ffffff"/>
<rect x="613.21" y="336.35" width="11.99" height="6.19" fill="#737373"/>
<rect x="624.89" y="336.35" width="6.14" height="6.19" fill="#919191"/>
<rect x="630.74" y="336.35" width="11.99" height="6.19" fill="#ffffff"/>
<rect x="642.42" y="336.35" width="6.14" height="6.19" fill="#ababab"/>
<rect x="648.27" y="336.35" width="29.52" height="6.19" fill="#ffffff"/>
<rect x="560.61" y="342.24" width="17.83" height="6.19" fill="#ababab"/>
<rect x="578.14" y="342.24" width="6.14" height="6.19" fill="#ffffff"/>
<rect x="583.99" y="342.24" width="6.14" height="6.19" fill="#ababab"/>
<rect x="589.83" y="342.24" width="6.14" height="6.19" fill="#d1d1d1"/>
<rect x="595.67" y="342.24" width="17.83" height="6.19" fill="#ffffff"/>
<rect x="613.21" y="342.24" width="6.14" height="6.19" fill="#d1d1d1"/>
<rect x="619.05" y="342.24" width="11.99" height="6.19" fill="#ababab"/>
<rect x="630.74" y="342.24" width="47.05" height="6.19" fill="#ffffff"/>
<rect x="560.61" y="348.12" width="29.52" height="6.19" fill="#ffffff"/>
<rect x="589.83" y="348.12" width="6.14" height="6.19" fill="#d1d1d1"/>
<rect x="595.67" y="348.12" width="11.99" height="6.19" fill="#ababab"/>
<rect x="607.36" y="348.12" width="11.99" height="6.19" fill="#ffffff"/>
<rect x="619.05" y="348.12" width="6.14" height="6.19" fill="#d1d1d1"/>
<rect x="624.89" y="348.12" width="52.89" height="6.19" fill="#ffffff"/>
<rect x="560.61" y="354.01" width="41.21" height="6.19" fill="#ffffff"/>
<rect x="601.52" y="354.01" width="6.14" height="6.19" fill="#d1d1d1"/>
<rect x="607.36" y="354.01" width="70.42" height="6.19" fill="#ffffff"/>
<rect x="560.61" y="359.90" width="41.21" height="6.19" fill="#ffffff"/>
<rect x="601.52" y="359.90" width="6.14" height="6.19" fill="#d1d1d1"/>
<rect x="607.36" y="359.90" width="70.42" height="6.19" fill="#ffffff"/>
<rect x="560.61" y="365.79" width="41.21" height="6.19" fill="#ffffff"/>
<rect x="601.52" y="365.79" width="6.14" height="6.19" fill="#d1d1d1"/>
<rect x="607.36" y="365.79" width="70.42" height="6.19" fill="#ffffff"/>
</g>
<rect x="572.30" y="265.70" width="93.50" height="94.20" fill="url(#hdots)"/>
</g>
<line x1="573.20" y1="265.70" x2="573.20" y2="359.90" stroke="#3a2a2a" stroke-width="1.8"/>
<line x1="572.30" y1="266.20" x2="665.80" y2="266.20" stroke="#4a3a30" stroke-width="1.1" opacity="0.8"/>
<rect x="670.40" y="265.70" width="5.50" height="94.20" fill="url(#hcbar)"/>
<line x1="670.40" y1="285.01" x2="675.90" y2="285.01" stroke="#555" stroke-width="0.6" opacity="0.7"/>
<line x1="670.40" y1="304.32" x2="675.90" y2="304.32" stroke="#555" stroke-width="0.6" opacity="0.7"/>
<line x1="670.40" y1="325.05" x2="675.90" y2="325.05" stroke="#555" stroke-width="0.6" opacity="0.7"/>
<line x1="670.40" y1="343.89" x2="675.90" y2="343.89" stroke="#555" stroke-width="0.6" opacity="0.7"/>
<filter id="hfd" x="-5%" y="-5%" width="110%" height="110%" color-interpolation-filters="sRGB"><feGaussianBlur stdDeviation="1.50"/><feComponentTransfer><feFuncR type="table" tableValues="0.051 0.065 0.080 0.094 0.108 0.123 0.137 0.152 0.166 0.180 0.210 0.240 0.269 0.299 0.329 0.358 0.388 0.417 0.447 0.448 0.449 0.450 0.451 0.451 0.452 0.453 0.454 0.455 0.490 0.525 0.559 0.594 0.629 0.664 0.699 0.732 0.765 0.797 0.830 0.863 0.895 0.905 0.910 0.914 0.919 0.923 0.927 0.932 0.936 0.940 0.939 0.936 0.933 0.930 0.927 0.924 0.921 0.919 0.916 0.913 0.910"/><feFuncG type="table" tableValues="0.314 0.350 0.387 0.424 0.460 0.497 0.533 0.570 0.607 0.643 0.662 0.681 0.701 0.720 0.739 0.758 0.777 0.797 0.816 0.809 0.802 0.795 0.788 0.781 0.774 0.767 0.760 0.753 0.764 0.775 0.786 0.797 0.807 0.818 0.829 0.836 0.841 0.846 0.851 0.856 0.862 0.835 0.800 0.765 0.730 0.695 0.661 0.626 0.591 0.556 0.528 0.503 0.477 0.451 0.425 0.399 0.374 0.348 0.322 0.296 0.271"/><feFuncB type="table" tableValues="0.651 0.673 0.695 0.716 0.738 0.760 0.782 0.803 0.825 0.847 0.838 0.830 0.821 0.812 0.803 0.795 0.786 0.777 0.769 0.718 0.668 0.617 0.566 0.516 0.465 0.415 0.364 0.314 0.307 0.301 0.294 0.288 0.281 0.275 0.268 0.262 0.257 0.252 0.247 0.242 0.236 0.230 0.223 0.216 0.209 0.202 0.195 0.188 0.181 0.174 0.170 0.167 0.163 0.160 0.157 0.154 0.150 0.147 0.144 0.141 0.137"/></feComponentTransfer></filter>
<clipPath id="hcd"><rect x="572.30" y="385.70" width="92.60" height="92.30"/></clipPath>
<g clip-path="url(#hcd)"><g filter="url(#hfd)">
<rect x="560.72" y="374.16" width="23.45" height="6.07" fill="#ffffff"/>
<rect x="583.88" y="374.16" width="6.09" height="6.07" fill="#d1d1d1"/>
<rect x="589.66" y="374.16" width="11.88" height="6.07" fill="#000000"/>
<rect x="601.24" y="374.16" width="6.09" height="6.07" fill="#d1d1d1"/>
<rect x="607.02" y="374.16" width="6.09" height="6.07" fill="#ffffff"/>
<rect x="612.81" y="374.16" width="6.09" height="6.07" fill="#000000"/>
<rect x="618.60" y="374.16" width="6.09" height="6.07" fill="#d1d1d1"/>
<rect x="624.39" y="374.16" width="11.88" height="6.07" fill="#ffffff"/>
<rect x="635.96" y="374.16" width="6.09" height="6.07" fill="#4c4c4c"/>
<rect x="641.75" y="374.16" width="11.88" height="6.07" fill="#737373"/>
<rect x="653.32" y="374.16" width="23.45" height="6.07" fill="#000000"/>
<rect x="560.72" y="379.93" width="23.45" height="6.07" fill="#ffffff"/>
<rect x="583.88" y="379.93" width="6.09" height="6.07" fill="#d1d1d1"/>
<rect x="589.66" y="379.93" width="11.88" height="6.07" fill="#000000"/>
<rect x="601.24" y="379.93" width="6.09" height="6.07" fill="#d1d1d1"/>
<rect x="607.02" y="379.93" width="6.09" height="6.07" fill="#ffffff"/>
<rect x="612.81" y="379.93" width="6.09" height="6.07" fill="#000000"/>
<rect x="618.60" y="379.93" width="6.09" height="6.07" fill="#d1d1d1"/>
<rect x="624.39" y="379.93" width="11.88" height="6.07" fill="#ffffff"/>
<rect x="635.96" y="379.93" width="6.09" height="6.07" fill="#4c4c4c"/>
<rect x="641.75" y="379.93" width="11.88" height="6.07" fill="#737373"/>
<rect x="653.32" y="379.93" width="23.45" height="6.07" fill="#000000"/>
<rect x="560.72" y="385.70" width="23.45" height="6.07" fill="#ffffff"/>
<rect x="583.88" y="385.70" width="6.09" height="6.07" fill="#d1d1d1"/>
<rect x="589.66" y="385.70" width="11.88" height="6.07" fill="#000000"/>
<rect x="601.24" y="385.70" width="6.09" height="6.07" fill="#d1d1d1"/>
<rect x="607.02" y="385.70" width="6.09" height="6.07" fill="#ffffff"/>
<rect x="612.81" y="385.70" width="6.09" height="6.07" fill="#000000"/>
<rect x="618.60" y="385.70" width="6.09" height="6.07" fill="#d1d1d1"/>
<rect x="624.39" y="385.70" width="11.88" height="6.07" fill="#ffffff"/>
<rect x="635.96" y="385.70" width="6.09" height="6.07" fill="#4c4c4c"/>
<rect x="641.75" y="385.70" width="11.88" height="6.07" fill="#737373"/>
<rect x="653.32" y="385.70" width="23.45" height="6.07" fill="#000000"/>
<rect x="560.72" y="391.47" width="23.45" height="6.07" fill="#ffffff"/>
<rect x="583.88" y="391.47" width="6.09" height="6.07" fill="#4c4c4c"/>
<rect x="589.66" y="391.47" width="11.88" height="6.07" fill="#000000"/>
<rect x="601.24" y="391.47" width="6.09" height="6.07" fill="#4c4c4c"/>
<rect x="607.02" y="391.47" width="23.45" height="6.07" fill="#000000"/>
<rect x="630.17" y="391.47" width="6.09" height="6.07" fill="#4c4c4c"/>
<rect x="635.96" y="391.47" width="11.88" height="6.07" fill="#737373"/>
<rect x="647.54" y="391.47" width="6.09" height="6.07" fill="#4c4c4c"/>
<rect x="653.32" y="391.47" width="23.45" height="6.07" fill="#000000"/>
<rect x="560.72" y="397.24" width="23.45" height="6.07" fill="#ffffff"/>
<rect x="583.88" y="397.24" width="6.09" height="6.07" fill="#737373"/>
<rect x="589.66" y="397.24" width="11.88" height="6.07" fill="#000000"/>
<rect x="601.24" y="397.24" width="11.88" height="6.07" fill="#4c4c4c"/>
<rect x="612.81" y="397.24" width="11.88" height="6.07" fill="#262626"/>
<rect x="624.39" y="397.24" width="6.09" height="6.07" fill="#4c4c4c"/>
<rect x="630.17" y="397.24" width="23.45" height="6.07" fill="#737373"/>
<rect x="653.32" y="397.24" width="23.45" height="6.07" fill="#000000"/>
<rect x="560.72" y="403.01" width="29.24" height="6.07" fill="#ffffff"/>
<rect x="589.66" y="403.01" width="11.88" height="6.07" fill="#4c4c4c"/>
<rect x="601.24" y="403.01" width="17.66" height="6.07" fill="#737373"/>
<rect x="618.60" y="403.01" width="11.88" height="6.07" fill="#4c4c4c"/>
<rect x="630.17" y="403.01" width="11.88" height="6.07" fill="#737373"/>
<rect x="641.75" y="403.01" width="6.09" height="6.07" fill="#ababab"/>
<rect x="647.54" y="403.01" width="6.09" height="6.07" fill="#737373"/>
<rect x="653.32" y="403.01" width="6.09" height="6.07" fill="#4c4c4c"/>
<rect x="659.11" y="403.01" width="17.66" height="6.07" fill="#000000"/>
<rect x="560.72" y="408.77" width="29.24" height="6.07" fill="#ffffff"/>
<rect x="589.66" y="408.77" width="17.66" height="6.07" fill="#737373"/>
<rect x="607.02" y="408.77" width="6.09" height="6.07" fill="#ababab"/>
<rect x="612.81" y="408.77" width="23.45" height="6.07" fill="#737373"/>
<rect x="635.96" y="408.77" width="6.09" height="6.07" fill="#ababab"/>
<rect x="641.75" y="408.77" width="6.09" height="6.07" fill="#d1d1d1"/>
<rect x="647.54" y="408.77" width="6.09" height="6.07" fill="#ababab"/>
<rect x="653.32" y="408.77" width="6.09" height="6.07" fill="#737373"/>
<rect x="659.11" y="408.77" width="17.66" height="6.07" fill="#4c4c4c"/>
<rect x="560.72" y="414.54" width="17.66" height="6.07" fill="#737373"/>
<rect x="578.09" y="414.54" width="11.88" height="6.07" fill="#ffffff"/>
<rect x="589.66" y="414.54" width="46.60" height="6.07" fill="#737373"/>
<rect x="635.96" y="414.54" width="6.09" height="6.07" fill="#ababab"/>
<rect x="641.75" y="414.54" width="6.09" height="6.07" fill="#d1d1d1"/>
<rect x="647.54" y="414.54" width="6.09" height="6.07" fill="#ababab"/>
<rect x="653.32" y="414.54" width="6.09" height="6.07" fill="#737373"/>
<rect x="659.11" y="414.54" width="17.66" height="6.07" fill="#4c4c4c"/>
<rect x="560.72" y="420.31" width="17.66" height="6.07" fill="#737373"/>
<rect x="578.09" y="420.31" width="11.88" height="6.07" fill="#ffffff"/>
<rect x="589.66" y="420.31" width="29.24" height="6.07" fill="#737373"/>
<rect x="618.60" y="420.31" width="6.09" height="6.07" fill="#4c4c4c"/>
<rect x="624.39" y="420.31" width="11.88" height="6.07" fill="#737373"/>
<rect x="635.96" y="420.31" width="11.88" height="6.07" fill="#ababab"/>
<rect x="647.54" y="420.31" width="29.24" height="6.07" fill="#737373"/>
<rect x="560.72" y="426.08" width="17.66" height="6.07" fill="#737373"/>
<rect x="578.09" y="426.08" width="6.09" height="6.07" fill="#d1d1d1"/>
<rect x="583.88" y="426.08" width="11.88" height="6.07" fill="#ffffff"/>
<rect x="595.45" y="426.08" width="23.45" height="6.07" fill="#737373"/>
<rect x="618.60" y="426.08" width="11.88" height="6.07" fill="#4c4c4c"/>
<rect x="630.17" y="426.08" width="46.60" height="6.07" fill="#737373"/>
<rect x="560.72" y="431.85" width="23.45" height="6.07" fill="#737373"/>
<rect x="583.88" y="431.85" width="11.88" height="6.07" fill="#ffffff"/>
<rect x="595.45" y="431.85" width="17.66" height="6.07" fill="#737373"/>
<rect x="612.81" y="431.85" width="11.88" height="6.07" fill="#4c4c4c"/>
<rect x="624.39" y="431.85" width="23.45" height="6.07" fill="#737373"/>
<rect x="647.54" y="431.85" width="6.09" height="6.07" fill="#ababab"/>
<rect x="653.32" y="431.85" width="23.45" height="6.07" fill="#737373"/>
<rect x="560.72" y="437.62" width="23.45" height="6.07" fill="#737373"/>
<rect x="583.88" y="437.62" width="6.09" height="6.07" fill="#d1d1d1"/>
<rect x="589.66" y="437.62" width="6.09" height="6.07" fill="#ffffff"/>
<rect x="595.45" y="437.62" width="17.66" height="6.07" fill="#737373"/>
<rect x="612.81" y="437.62" width="6.09" height="6.07" fill="#262626"/>
<rect x="618.60" y="437.62" width="6.09" height="6.07" fill="#4c4c4c"/>
<rect x="624.39" y="437.62" width="23.45" height="6.07" fill="#737373"/>
<rect x="647.54" y="437.62" width="6.09" height="6.07" fill="#d1d1d1"/>
<rect x="653.32" y="437.62" width="23.45" height="6.07" fill="#737373"/>
<rect x="560.72" y="443.39" width="17.66" height="6.07" fill="#737373"/>
<rect x="578.09" y="443.39" width="11.88" height="6.07" fill="#ababab"/>
<rect x="589.66" y="443.39" width="6.09" height="6.07" fill="#d1d1d1"/>
<rect x="595.45" y="443.39" width="11.88" height="6.07" fill="#737373"/>
<rect x="607.02" y="443.39" width="6.09" height="6.07" fill="#4c4c4c"/>
<rect x="612.81" y="443.39" width="11.88" height="6.07" fill="#000000"/>
<rect x="624.39" y="443.39" width="6.09" height="6.07" fill="#4c4c4c"/>
<rect x="630.17" y="443.39" width="17.66" height="6.07" fill="#737373"/>
<rect x="647.54" y="443.39" width="6.09" height="6.07" fill="#ababab"/>
<rect x="653.32" y="443.39" width="23.45" height="6.07" fill="#737373"/>
<rect x="560.72" y="449.16" width="17.66" height="6.07" fill="#737373"/>
<rect x="578.09" y="449.16" width="11.88" height="6.07" fill="#ababab"/>
<rect x="589.66" y="449.16" width="11.88" height="6.07" fill="#737373"/>
<rect x="601.24" y="449.16" width="6.09" height="6.07" fill="#ffffff"/>
<rect x="607.02" y="449.16" width="6.09" height="6.07" fill="#737373"/>
<rect x="612.81" y="449.16" width="6.09" height="6.07" fill="#262626"/>
<rect x="618.60" y="449.16" width="6.09" height="6.07" fill="#000000"/>
<rect x="624.39" y="449.16" width="6.09" height="6.07" fill="#4c4c4c"/>
<rect x="630.17" y="449.16" width="23.45" height="6.07" fill="#737373"/>
<rect x="653.32" y="449.16" width="6.09" height="6.07" fill="#ababab"/>
<rect x="659.11" y="449.16" width="17.66" height="6.07" fill="#737373"/>
<rect x="560.72" y="454.93" width="17.66" height="6.07" fill="#737373"/>
<rect x="578.09" y="454.93" width="6.09" height="6.07" fill="#ababab"/>
<rect x="583.88" y="454.93" width="17.66" height="6.07" fill="#737373"/>
<rect x="601.24" y="454.93" width="6.09" height="6.07" fill="#ffffff"/>
<rect x="607.02" y="454.93" width="6.09" height="6.07" fill="#4c4c4c"/>
<rect x="612.81" y="454.93" width="6.09" height="6.07" fill="#000000"/>
<rect x="618.60" y="454.93" width="6.09" height="6.07" fill="#4c4c4c"/>
<rect x="624.39" y="454.93" width="29.24" height="6.07" fill="#737373"/>
<rect x="653.32" y="454.93" width="23.45" height="6.07" fill="#ababab"/>
<rect x="560.72" y="460.69" width="17.66" height="6.07" fill="#ffffff"/>
<rect x="578.09" y="460.69" width="6.09" height="6.07" fill="#ababab"/>
<rect x="583.88" y="460.69" width="17.66" height="6.07" fill="#737373"/>
<rect x="601.24" y="460.69" width="6.09" height="6.07" fill="#ffffff"/>
<rect x="607.02" y="460.69" width="6.09" height="6.07" fill="#4c4c4c"/>
<rect x="612.81" y="460.69" width="6.09" height="6.07" fill="#000000"/>
<rect x="618.60" y="460.69" width="35.03" height="6.07" fill="#737373"/>
<rect x="653.32" y="460.69" width="6.09" height="6.07" fill="#d1d1d1"/>
<rect x="659.11" y="460.69" width="17.66" height="6.07" fill="#ffffff"/>
<rect x="560.72" y="466.46" width="17.66" height="6.07" fill="#ffffff"/>
<rect x="578.09" y="466.46" width="23.45" height="6.07" fill="#737373"/>
<rect x="601.24" y="466.46" width="6.09" height="6.07" fill="#ababab"/>
<rect x="607.02" y="466.46" width="6.09" height="6.07" fill="#262626"/>
<rect x="612.81" y="466.46" width="6.09" height="6.07" fill="#4c4c4c"/>
<rect x="618.60" y="466.46" width="17.66" height="6.07" fill="#737373"/>
<rect x="635.96" y="466.46" width="6.09" height="6.07" fill="#4c4c4c"/>
<rect x="641.75" y="466.46" width="11.88" height="6.07" fill="#737373"/>
<rect x="653.32" y="466.46" width="23.45" height="6.07" fill="#ffffff"/>
<rect x="560.72" y="472.23" width="17.66" height="6.07" fill="#ffffff"/>
<rect x="578.09" y="472.23" width="6.09" height="6.07" fill="#737373"/>
<rect x="583.88" y="472.23" width="6.09" height="6.07" fill="#000000"/>
<rect x="589.66" y="472.23" width="11.88" height="6.07" fill="#737373"/>
<rect x="601.24" y="472.23" width="6.09" height="6.07" fill="#000000"/>
<rect x="607.02" y="472.23" width="6.09" height="6.07" fill="#d1d1d1"/>
<rect x="612.81" y="472.23" width="6.09" height="6.07" fill="#ffffff"/>
<rect x="618.60" y="472.23" width="6.09" height="6.07" fill="#000000"/>
<rect x="624.39" y="472.23" width="11.88" height="6.07" fill="#737373"/>
<rect x="635.96" y="472.23" width="6.09" height="6.07" fill="#4c4c4c"/>
<rect x="641.75" y="472.23" width="11.88" height="6.07" fill="#737373"/>
<rect x="653.32" y="472.23" width="23.45" height="6.07" fill="#ffffff"/>
<rect x="560.72" y="478.00" width="17.66" height="6.07" fill="#ffffff"/>
<rect x="578.09" y="478.00" width="6.09" height="6.07" fill="#737373"/>
<rect x="583.88" y="478.00" width="6.09" height="6.07" fill="#000000"/>
<rect x="589.66" y="478.00" width="11.88" height="6.07" fill="#737373"/>
<rect x="601.24" y="478.00" width="6.09" height="6.07" fill="#000000"/>
<rect x="607.02" y="478.00" width="6.09" height="6.07" fill="#d1d1d1"/>
<rect x="612.81" y="478.00" width="6.09" height="6.07" fill="#ffffff"/>
<rect x="618.60" y="478.00" width="6.09" height="6.07" fill="#000000"/>
<rect x="624.39" y="478.00" width="11.88" height="6.07" fill="#737373"/>
<rect x="635.96" y="478.00" width="6.09" height="6.07" fill="#4c4c4c"/>
<rect x="641.75" y="478.00" width="11.88" height="6.07" fill="#737373"/>
<rect x="653.32" y="478.00" width="23.45" height="6.07" fill="#ffffff"/>
<rect x="560.72" y="483.77" width="17.66" height="6.07" fill="#ffffff"/>
<rect x="578.09" y="483.77" width="6.09" height="6.07" fill="#737373"/>
<rect x="583.88" y="483.77" width="6.09" height="6.07" fill="#000000"/>
<rect x="589.66" y="483.77" width="11.88" height="6.07" fill="#737373"/>
<rect x="601.24" y="483.77" width="6.09" height="6.07" fill="#000000"/>
<rect x="607.02" y="483.77" width="6.09" height="6.07" fill="#d1d1d1"/>
<rect x="612.81" y="483.77" width="6.09" height="6.07" fill="#ffffff"/>
<rect x="618.60" y="483.77" width="6.09" height="6.07" fill="#000000"/>
<rect x="624.39" y="483.77" width="11.88" height="6.07" fill="#737373"/>
<rect x="635.96" y="483.77" width="6.09" height="6.07" fill="#4c4c4c"/>
<rect x="641.75" y="483.77" width="11.88" height="6.07" fill="#737373"/>
<rect x="653.32" y="483.77" width="23.45" height="6.07" fill="#ffffff"/>
</g>
<rect x="572.30" y="385.70" width="92.60" height="92.30" fill="url(#hdots)"/>
</g>
<line x1="573.20" y1="385.70" x2="573.20" y2="478.00" stroke="#3a2a2a" stroke-width="1.8"/>
<line x1="572.30" y1="386.20" x2="664.90" y2="386.20" stroke="#4a3a30" stroke-width="1.1" opacity="0.8"/>
<rect x="670.40" y="385.70" width="5.50" height="92.30" fill="url(#hcbar)"/>
<line x1="670.40" y1="404.62" x2="675.90" y2="404.62" stroke="#555" stroke-width="0.6" opacity="0.7"/>
<line x1="670.40" y1="423.54" x2="675.90" y2="423.54" stroke="#555" stroke-width="0.6" opacity="0.7"/>
<line x1="670.40" y1="443.85" x2="675.90" y2="443.85" stroke="#555" stroke-width="0.6" opacity="0.7"/>
<line x1="670.40" y1="462.31" x2="675.90" y2="462.31" stroke="#555" stroke-width="0.6" opacity="0.7"/>
<g stroke="#5e6e84" stroke-width="1.9" stroke-dasharray="3.9 3.03" fill="none">
<line x1="1.8" y1="1.3" x2="685" y2="1.3"/>
<line x1="2" y1="505.6" x2="685" y2="505.6"/>
<line x1="0.7" y1="3.8" x2="0.7" y2="507"/>
<line x1="683.1" y1="6.2" x2="683.1" y2="507"/>
</g>
<line x1="0.2" y1="253.7" x2="685" y2="253.7" stroke="#2c3856" stroke-width="1.8" stroke-dasharray="4.5 2.43"/>
</svg>
</body></html>
